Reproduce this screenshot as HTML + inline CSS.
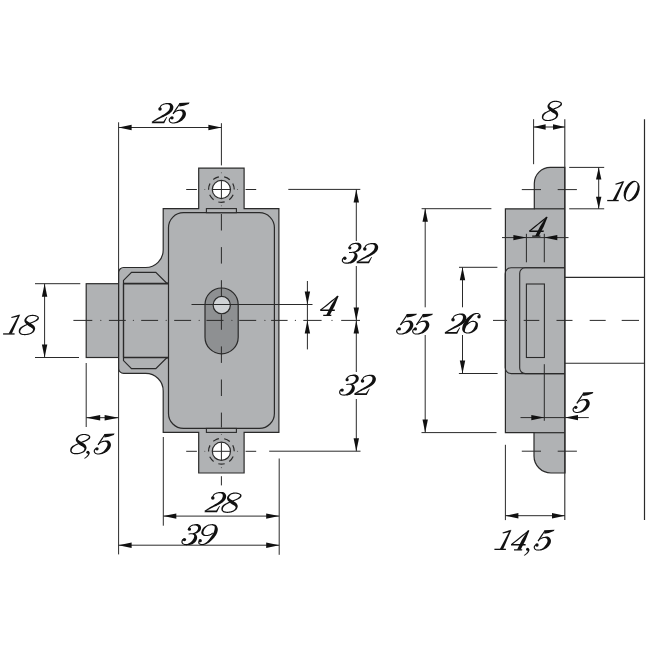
<!DOCTYPE html>
<html><head><meta charset="utf-8"><style>
html,body{margin:0;padding:0;background:#fff;width:650px;height:650px;overflow:hidden}
svg{display:block}
</style></head><body>
<svg width="650" height="650" viewBox="0 0 650 650">
<rect width="650" height="650" fill="#fff"/>
<rect x="86.2" y="283.7" width="32.4" height="73.8" fill="#b0b2b4" stroke="#2a2a2a" stroke-width="1.2"/>
<path d="M198.7,168.2 L244.1,168.2 L244.1,208.6 L278.9,208.6 L278.9,432.4 L244.1,432.4 L244.1,473 L198.7,473 L198.7,432.4 L163.2,432.4 L163.2,390.9 A17.5,17.5 0 0 0 145.7,373.4 L123.6,373.4 A5,5 0 0 1 118.6,368.4 L118.6,272.5 A5,5 0 0 1 123.6,267.5 L145.7,267.5 A17.5,17.5 0 0 0 163.2,250.0 L163.2,208.6 L198.7,208.6 Z" fill="#b0b2b4" stroke="#2a2a2a" stroke-width="1.2" stroke-linejoin="miter"/>
<rect x="168.5" y="212.7" width="105.9" height="215.7" rx="15" ry="15" fill="#b0b2b4" stroke="#2a2a2a" stroke-width="1.2"/>
<rect x="206.4" y="208.6" width="30" height="4.1" fill="#b0b2b4" stroke="#2a2a2a" stroke-width="1.1"/>
<rect x="206.4" y="428.4" width="30" height="4.0" fill="#b0b2b4" stroke="#2a2a2a" stroke-width="1.1"/>
<path d="M123.5,357.6 L123.5,280.4 L131.5,272.3 L155.8,272.3 L166,282.5 L168.5,283.6" fill="none" stroke="#2a2a2a" stroke-width="1.2"/>
<path d="M123.5,283.6 L123.5,360.6 L131.5,368.7 L155.8,368.7 L166,358.5 L168.5,357.5" fill="none" stroke="#2a2a2a" stroke-width="1.2"/>
<line x1="123.5" y1="283.6" x2="168.5" y2="283.6" stroke="#2a2a2a" stroke-width="1.6"/>
<line x1="123.5" y1="357.5" x2="168.5" y2="357.5" stroke="#2a2a2a" stroke-width="1.6"/>
<rect x="205" y="288" width="33.2" height="65.8" rx="16.6" ry="16.6" fill="#8e9092" stroke="#2a2a2a" stroke-width="1.2"/>
<circle cx="221.75" cy="305.1" r="8.65" fill="#cfd2d5" stroke="#2a2a2a" stroke-width="1.2"/>
<circle cx="221.4" cy="189.5" r="12.85" fill="none" stroke="#2a2a2a" stroke-width="1.2" stroke-dasharray="6.3 5.23" transform="rotate(-28 221.4 189.5)"/>
<circle cx="221.4" cy="189.5" r="9.1" fill="#fff" stroke="#2a2a2a" stroke-width="1.2"/>
<line x1="212.4" y1="189.5" x2="230.4" y2="189.5" stroke="#2a2a2a" stroke-width="1.0"/>
<line x1="221.4" y1="180.5" x2="221.4" y2="198.5" stroke="#2a2a2a" stroke-width="1.0"/>
<line x1="186.2" y1="189.5" x2="196.9" y2="189.5" stroke="#2a2a2a" stroke-width="1.0"/>
<line x1="245.6" y1="189.5" x2="256.2" y2="189.5" stroke="#2a2a2a" stroke-width="1.0"/>
<circle cx="204.8" cy="189.5" r="0.55" fill="#555"/>
<circle cx="237.5" cy="189.5" r="0.55" fill="#555"/>
<circle cx="221.4" cy="172.7" r="0.55" fill="#555"/>
<circle cx="221.4" cy="205.8" r="0.55" fill="#555"/>
<circle cx="221.4" cy="451.3" r="12.85" fill="none" stroke="#2a2a2a" stroke-width="1.2" stroke-dasharray="6.3 5.23" transform="rotate(-28 221.4 451.3)"/>
<circle cx="221.4" cy="451.3" r="9.1" fill="#fff" stroke="#2a2a2a" stroke-width="1.2"/>
<line x1="212.4" y1="451.3" x2="230.4" y2="451.3" stroke="#2a2a2a" stroke-width="1.0"/>
<line x1="221.4" y1="442.3" x2="221.4" y2="460.3" stroke="#2a2a2a" stroke-width="1.0"/>
<line x1="186.2" y1="451.3" x2="196.9" y2="451.3" stroke="#2a2a2a" stroke-width="1.0"/>
<line x1="245.6" y1="451.3" x2="256.2" y2="451.3" stroke="#2a2a2a" stroke-width="1.0"/>
<circle cx="204.8" cy="451.3" r="0.55" fill="#555"/>
<circle cx="237.5" cy="451.3" r="0.55" fill="#555"/>
<circle cx="221.4" cy="434.5" r="0.55" fill="#555"/>
<circle cx="221.4" cy="467.6" r="0.55" fill="#555"/>
<line x1="221.4" y1="214" x2="221.4" y2="230.5" stroke="#2a2a2a" stroke-width="1.0"/>
<line x1="221.4" y1="247.1" x2="221.4" y2="263.6" stroke="#2a2a2a" stroke-width="1.0"/>
<line x1="221.4" y1="280.2" x2="221.4" y2="296.3" stroke="#2a2a2a" stroke-width="1.0"/>
<line x1="221.4" y1="314.3" x2="221.4" y2="329.8" stroke="#2a2a2a" stroke-width="1.0"/>
<line x1="221.4" y1="346.4" x2="221.4" y2="362.9" stroke="#2a2a2a" stroke-width="1.0"/>
<line x1="221.4" y1="379.5" x2="221.4" y2="396.0" stroke="#2a2a2a" stroke-width="1.0"/>
<line x1="221.4" y1="412.6" x2="221.4" y2="427.5" stroke="#2a2a2a" stroke-width="1.0"/>
<line x1="221.4" y1="123.2" x2="221.4" y2="165.4" stroke="#2a2a2a" stroke-width="1.0"/>
<line x1="221.4" y1="476.2" x2="221.4" y2="485.4" stroke="#2a2a2a" stroke-width="1.0"/>
<line x1="73.4" y1="320.4" x2="92.3" y2="320.4" stroke="#2a2a2a" stroke-width="1.0"/>
<line x1="108.9" y1="320.4" x2="125.8" y2="320.4" stroke="#2a2a2a" stroke-width="1.0"/>
<line x1="141.2" y1="320.4" x2="158.1" y2="320.4" stroke="#2a2a2a" stroke-width="1.0"/>
<line x1="174.2" y1="320.4" x2="191.1" y2="320.4" stroke="#2a2a2a" stroke-width="1.0"/>
<line x1="206.5" y1="320.4" x2="223.5" y2="320.4" stroke="#2a2a2a" stroke-width="1.0"/>
<line x1="239.2" y1="320.4" x2="256.2" y2="320.4" stroke="#2a2a2a" stroke-width="1.0"/>
<line x1="271.1" y1="320.4" x2="287.6" y2="320.4" stroke="#2a2a2a" stroke-width="1.0"/>
<line x1="303.3" y1="320.4" x2="321.6" y2="320.4" stroke="#2a2a2a" stroke-width="1.0"/>
<line x1="341.2" y1="320.4" x2="360" y2="320.4" stroke="#2a2a2a" stroke-width="1.0"/>
<circle cx="100.8" cy="320.4" r="0.6" fill="#444"/>
<circle cx="133.4" cy="320.4" r="0.6" fill="#444"/>
<circle cx="166.2" cy="320.4" r="0.6" fill="#444"/>
<circle cx="199.2" cy="320.4" r="0.6" fill="#444"/>
<circle cx="231.9" cy="320.4" r="0.6" fill="#444"/>
<circle cx="264.9" cy="320.4" r="0.6" fill="#444"/>
<circle cx="295.4" cy="320.4" r="0.6" fill="#444"/>
<circle cx="332" cy="320.4" r="0.6" fill="#444"/>
<line x1="118.6" y1="122.3" x2="118.6" y2="554.4" stroke="#2a2a2a" stroke-width="1.0"/>
<line x1="118.6" y1="127.5" x2="221.4" y2="127.5" stroke="#2a2a2a" stroke-width="1.0"/>
<path d="M118.60,127.50 L131.60,124.80 L131.60,130.20 Z" fill="#111"/>
<path d="M221.40,127.50 L208.40,130.20 L208.40,124.80 Z" fill="#111"/>
<line x1="35" y1="283.7" x2="80.3" y2="283.7" stroke="#2a2a2a" stroke-width="1.0"/>
<line x1="35" y1="357.5" x2="79" y2="357.5" stroke="#2a2a2a" stroke-width="1.0"/>
<line x1="44.6" y1="283.7" x2="44.6" y2="357.5" stroke="#2a2a2a" stroke-width="1.0"/>
<path d="M44.60,283.70 L47.30,296.70 L41.90,296.70 Z" fill="#111"/>
<path d="M44.60,357.50 L41.90,344.50 L47.30,344.50 Z" fill="#111"/>
<line x1="86.2" y1="363" x2="86.2" y2="427" stroke="#2a2a2a" stroke-width="1.0"/>
<line x1="86.2" y1="417.7" x2="118.6" y2="417.7" stroke="#2a2a2a" stroke-width="1.0"/>
<path d="M86.20,417.70 L100.20,415.00 L100.20,420.40 Z" fill="#111"/>
<path d="M118.60,417.70 L104.60,420.40 L104.60,415.00 Z" fill="#111"/>
<line x1="163.3" y1="437" x2="163.3" y2="525.7" stroke="#2a2a2a" stroke-width="1.0"/>
<line x1="279.2" y1="458.5" x2="279.2" y2="554.8" stroke="#2a2a2a" stroke-width="1.0"/>
<line x1="163.3" y1="516.1" x2="279.2" y2="516.1" stroke="#2a2a2a" stroke-width="1.0"/>
<path d="M163.30,516.10 L176.30,513.40 L176.30,518.80 Z" fill="#111"/>
<path d="M279.20,516.10 L266.20,518.80 L266.20,513.40 Z" fill="#111"/>
<line x1="118.6" y1="545.2" x2="279.2" y2="545.2" stroke="#2a2a2a" stroke-width="1.0"/>
<path d="M118.60,545.20 L131.60,542.50 L131.60,547.90 Z" fill="#111"/>
<path d="M279.20,545.20 L266.20,547.90 L266.20,542.50 Z" fill="#111"/>
<line x1="288.3" y1="189.4" x2="360.3" y2="189.4" stroke="#2a2a2a" stroke-width="1.0"/>
<line x1="269.2" y1="451.2" x2="360.5" y2="451.2" stroke="#2a2a2a" stroke-width="1.0"/>
<line x1="356.3" y1="189.4" x2="356.3" y2="241" stroke="#2a2a2a" stroke-width="1.0"/>
<line x1="356.3" y1="266" x2="356.3" y2="320.4" stroke="#2a2a2a" stroke-width="1.0"/>
<line x1="356.3" y1="320.4" x2="356.3" y2="372" stroke="#2a2a2a" stroke-width="1.0"/>
<line x1="356.3" y1="399" x2="356.3" y2="451.2" stroke="#2a2a2a" stroke-width="1.0"/>
<path d="M356.30,189.40 L359.00,202.40 L353.60,202.40 Z" fill="#111"/>
<path d="M356.30,320.40 L353.60,307.40 L359.00,307.40 Z" fill="#111"/>
<path d="M356.30,320.40 L359.00,333.40 L353.60,333.40 Z" fill="#111"/>
<path d="M356.30,451.20 L353.60,438.20 L359.00,438.20 Z" fill="#111"/>
<line x1="191.5" y1="304.5" x2="312.5" y2="304.5" stroke="#2a2a2a" stroke-width="1.0"/>
<line x1="307.4" y1="281" x2="307.4" y2="349.4" stroke="#2a2a2a" stroke-width="1.0"/>
<path d="M307.40,304.50 L304.70,291.50 L310.10,291.50 Z" fill="#111"/>
<path d="M307.40,320.40 L310.10,333.40 L304.70,333.40 Z" fill="#111"/>
<path d="M564.8,167.4 L550.3,167.4 A16,16 0 0 0 534.3,183.4 L534.3,208.8 L505.4,208.8 L505.4,432.7 L534,432.7 L534,456 A17,17 0 0 0 551,473 L565,473 Z" fill="#b0b2b4" stroke="#2a2a2a" stroke-width="1.2"/>
<line x1="534.3" y1="208.8" x2="564.8" y2="208.8" stroke="#2a2a2a" stroke-width="1.2"/>
<line x1="534" y1="432.7" x2="564.8" y2="432.7" stroke="#2a2a2a" stroke-width="1.2"/>
<path d="M564.6,267.7 L511.2,267.7 A6,6 0 0 0 505.2,273.7 L505.2,367.6 A6,6 0 0 0 511.2,373.6 L564.6,373.6" fill="none" stroke="#2a2a2a" stroke-width="1.1"/>
<path d="M564.6,267.7 L525.2,267.7 A5.5,5.5 0 0 0 519.7,273.2 L519.7,368.1 A5.5,5.5 0 0 0 525.2,373.6 L564.6,373.6" fill="none" stroke="#2a2a2a" stroke-width="1.1"/>
<rect x="526.4" y="284" width="18" height="73.5" fill="none" stroke="#2a2a2a" stroke-width="1.1"/>
<line x1="564.8" y1="119.2" x2="564.8" y2="520.1" stroke="#2a2a2a" stroke-width="1.1"/>
<line x1="644.5" y1="119.2" x2="644.5" y2="520.1" stroke="#2a2a2a" stroke-width="1.2"/>
<line x1="565" y1="277.4" x2="644.5" y2="277.4" stroke="#2a2a2a" stroke-width="1.1"/>
<line x1="565" y1="363.2" x2="644.5" y2="363.2" stroke="#2a2a2a" stroke-width="1.1"/>
<line x1="493" y1="320.4" x2="507" y2="320.4" stroke="#2a2a2a" stroke-width="1.0"/>
<line x1="523.7" y1="320.4" x2="539.3" y2="320.4" stroke="#2a2a2a" stroke-width="1.0"/>
<line x1="556.5" y1="320.4" x2="572.5" y2="320.4" stroke="#2a2a2a" stroke-width="1.0"/>
<line x1="589.7" y1="320.4" x2="605.7" y2="320.4" stroke="#2a2a2a" stroke-width="1.0"/>
<line x1="621.7" y1="320.4" x2="639" y2="320.4" stroke="#2a2a2a" stroke-width="1.0"/>
<line x1="521.8" y1="189.6" x2="541" y2="189.6" stroke="#2a2a2a" stroke-width="1.0"/>
<line x1="557.7" y1="189.6" x2="576.9" y2="189.6" stroke="#2a2a2a" stroke-width="1.0"/>
<line x1="521.8" y1="451.2" x2="541" y2="451.2" stroke="#2a2a2a" stroke-width="1.0"/>
<line x1="557.7" y1="451.2" x2="576.9" y2="451.2" stroke="#2a2a2a" stroke-width="1.0"/>
<line x1="533.6" y1="119.2" x2="533.6" y2="164.2" stroke="#2a2a2a" stroke-width="1.0"/>
<line x1="533.6" y1="127" x2="565" y2="127" stroke="#2a2a2a" stroke-width="1.0"/>
<path d="M533.60,127.00 L545.60,124.30 L545.60,129.70 Z" fill="#111"/>
<path d="M565.00,127.00 L553.00,129.70 L553.00,124.30 Z" fill="#111"/>
<line x1="569.2" y1="167.4" x2="604.2" y2="167.4" stroke="#2a2a2a" stroke-width="1.0"/>
<line x1="569.2" y1="208.8" x2="604.2" y2="208.8" stroke="#2a2a2a" stroke-width="1.0"/>
<line x1="598.7" y1="167.4" x2="598.7" y2="208.8" stroke="#2a2a2a" stroke-width="1.0"/>
<path d="M598.70,167.40 L601.40,179.40 L596.00,179.40 Z" fill="#111"/>
<path d="M598.70,208.80 L596.00,196.80 L601.40,196.80 Z" fill="#111"/>
<line x1="526.4" y1="233.8" x2="526.4" y2="262.3" stroke="#2a2a2a" stroke-width="1.0"/>
<line x1="544.3" y1="233.8" x2="544.3" y2="262.3" stroke="#2a2a2a" stroke-width="1.0"/>
<line x1="502" y1="237.6" x2="568.5" y2="237.6" stroke="#2a2a2a" stroke-width="1.0"/>
<path d="M526.40,237.60 L513.40,240.30 L513.40,234.90 Z" fill="#111"/>
<path d="M544.30,237.60 L557.30,234.90 L557.30,240.30 Z" fill="#111"/>
<line x1="544.3" y1="364.2" x2="544.3" y2="420.8" stroke="#2a2a2a" stroke-width="1.0"/>
<line x1="520.5" y1="417.6" x2="588.8" y2="417.6" stroke="#2a2a2a" stroke-width="1.0"/>
<path d="M544.30,417.60 L531.30,420.30 L531.30,414.90 Z" fill="#111"/>
<path d="M565.00,417.60 L578.00,414.90 L578.00,420.30 Z" fill="#111"/>
<line x1="421.6" y1="208.7" x2="491.4" y2="208.7" stroke="#2a2a2a" stroke-width="1.0"/>
<line x1="421.5" y1="432.6" x2="496.5" y2="432.6" stroke="#2a2a2a" stroke-width="1.0"/>
<line x1="425.2" y1="208.7" x2="425.2" y2="307.3" stroke="#2a2a2a" stroke-width="1.0"/>
<line x1="425.2" y1="335" x2="425.2" y2="432.6" stroke="#2a2a2a" stroke-width="1.0"/>
<path d="M425.20,208.70 L427.90,221.70 L422.50,221.70 Z" fill="#111"/>
<path d="M425.20,432.60 L422.50,419.60 L427.90,419.60 Z" fill="#111"/>
<line x1="459" y1="267.3" x2="497.4" y2="267.3" stroke="#2a2a2a" stroke-width="1.0"/>
<line x1="458.9" y1="373.5" x2="497.6" y2="373.5" stroke="#2a2a2a" stroke-width="1.0"/>
<line x1="462.5" y1="267.3" x2="462.5" y2="307.3" stroke="#2a2a2a" stroke-width="1.0"/>
<line x1="462.5" y1="335" x2="462.5" y2="373.5" stroke="#2a2a2a" stroke-width="1.0"/>
<path d="M462.50,267.30 L465.20,280.30 L459.80,280.30 Z" fill="#111"/>
<path d="M462.50,373.50 L459.80,360.50 L465.20,360.50 Z" fill="#111"/>
<line x1="505.4" y1="444.8" x2="505.4" y2="520.1" stroke="#2a2a2a" stroke-width="1.0"/>
<line x1="505.4" y1="515.7" x2="565" y2="515.7" stroke="#2a2a2a" stroke-width="1.0"/>
<path d="M505.40,515.70 L518.40,513.00 L518.40,518.40 Z" fill="#111"/>
<path d="M565.00,515.70 L552.00,518.40 L552.00,513.00 Z" fill="#111"/>
<g transform="translate(151.60,123.20)" fill="#111"><path d="M8.5,-14.4 8.6,-14.6 8.7,-15.0 8.9,-15.4 9.1,-15.8 9.3,-16.2 9.5,-16.6 9.7,-17.0 10.0,-17.2 10.2,-17.5 10.6,-17.7 10.9,-17.9 11.3,-18.1 11.7,-18.3 12.1,-18.4 12.6,-18.6 12.9,-18.7 13.3,-18.8 13.7,-18.9 14.1,-19.0 14.5,-19.0 14.9,-19.0 15.2,-19.0 15.6,-19.0 16.0,-19.0 16.3,-18.9 16.7,-18.8 17.0,-18.6 17.3,-18.5 17.6,-18.3 17.8,-18.2 18.0,-18.0 18.1,-17.8 18.2,-17.7 18.2,-17.5 18.3,-17.3 18.3,-17.1 18.3,-16.9 18.4,-16.7 18.3,-16.5 18.3,-16.3 18.3,-16.2 18.4,-16.0 18.3,-15.8 18.3,-15.6 18.3,-15.4 18.2,-15.2 18.1,-14.9 18.0,-14.7 18.0,-14.4 17.8,-14.1 17.7,-13.8 17.6,-13.5 17.4,-13.2 17.2,-12.9 16.9,-12.5 16.6,-12.2 16.3,-11.9 16.0,-11.6 15.6,-11.2 15.1,-10.9 14.7,-10.5 14.2,-10.1 13.6,-9.7 13.0,-9.3 12.4,-8.9 11.7,-8.5 11.0,-8.1 10.2,-7.7 9.5,-7.2 8.7,-6.8 7.9,-6.3 7.2,-5.9 6.5,-5.5 5.8,-5.1 5.1,-4.6 4.4,-4.2 3.7,-3.8 3.1,-3.4 2.6,-3.0 2.1,-2.7 1.7,-2.4 1.3,-2.2 1.0,-2.0 0.7,-1.8 0.5,-1.6 0.3,-1.5 0.2,-1.4 0.0,-1.3 0.8,-0.3 0.9,-0.4 1.1,-0.5 1.2,-0.7 1.4,-0.8 1.7,-1.0 2.0,-1.2 2.3,-1.4 2.7,-1.7 3.2,-2.0 3.8,-2.3 4.4,-2.6 5.1,-3.0 5.8,-3.4 6.5,-3.7 7.3,-4.1 8.0,-4.5 8.7,-4.9 9.5,-5.2 10.3,-5.6 11.1,-6.0 11.9,-6.3 12.7,-6.7 13.5,-7.1 14.2,-7.5 14.8,-7.8 15.4,-8.1 16.0,-8.5 16.6,-8.8 17.1,-9.1 17.6,-9.5 18.1,-9.8 18.6,-10.2 19.0,-10.6 19.4,-10.9 19.8,-11.3 20.1,-11.7 20.4,-12.1 20.7,-12.5 20.9,-12.9 21.2,-13.3 21.3,-13.7 21.5,-14.2 21.6,-14.6 21.7,-15.1 21.7,-15.5 21.8,-16.0 21.7,-16.4 21.7,-16.9 21.5,-17.3 21.3,-17.7 21.1,-18.1 20.9,-18.5 20.6,-18.8 20.3,-19.2 19.9,-19.5 19.5,-19.8 19.1,-20.0 18.6,-20.1 18.2,-20.2 17.8,-20.2 17.3,-20.3 16.9,-20.3 16.5,-20.2 16.0,-20.2 15.6,-20.2 15.2,-20.2 14.8,-20.2 14.4,-20.1 13.9,-20.0 13.5,-19.9 13.1,-19.8 12.7,-19.7 12.2,-19.6 11.8,-19.4 11.3,-19.2 10.9,-19.0 10.4,-18.8 10.0,-18.6 9.6,-18.3 9.2,-18.0 8.9,-17.6 8.6,-17.1 8.4,-16.7 8.1,-16.2 7.9,-15.8 7.8,-15.4 7.6,-15.0 7.5,-14.8Z"/><path d="M0.0,0.0 L12.6,0.0 L15.6,-6.2 L14.9,-6.2 L11.8,-1.8 L1.6,-1.8Z"/><circle cx="8.4" cy="-14.1" r="1.75"/></g>
<g transform="translate(169.20,123.00)" fill="#111"><path d="M9.9,-20.0 L20.4,-20.4 L19.6,-19.1 L14.6,-17.3 L10.2,-16.5Z"/><path d="M9.9,-19.3 9.4,-18.5 8.6,-17.3 7.6,-15.9 6.6,-14.4 5.6,-12.9 4.7,-11.5 3.9,-10.3 3.4,-9.5 4.2,-8.9 4.8,-9.7 5.6,-10.9 6.5,-12.3 7.6,-13.8 8.6,-15.3 9.5,-16.7 10.3,-17.8 10.9,-18.7Z"/><path d="M4.1,-8.8 4.4,-9.0 4.7,-9.3 5.0,-9.7 5.4,-10.1 5.8,-10.4 6.2,-10.8 6.6,-11.1 7.0,-11.3 7.5,-11.5 7.9,-11.7 8.4,-11.8 8.9,-12.0 9.5,-12.1 9.9,-12.1 10.4,-12.2 10.8,-12.2 11.2,-12.1 11.6,-12.0 11.9,-11.9 12.2,-11.8 12.4,-11.6 12.6,-11.5 12.7,-11.3 12.8,-11.1 12.9,-11.0 13.0,-10.8 13.1,-10.6 13.2,-10.4 13.3,-10.2 13.3,-9.9 13.3,-9.7 13.3,-9.5 13.3,-9.4 13.3,-9.2 13.3,-8.9 13.3,-8.7 13.2,-8.4 13.1,-8.1 13.0,-7.8 12.9,-7.5 12.7,-7.2 12.6,-6.9 12.4,-6.5 12.1,-6.1 11.9,-5.7 11.6,-5.3 11.3,-4.9 11.0,-4.6 10.7,-4.2 10.4,-3.8 10.1,-3.5 9.8,-3.1 9.5,-2.8 9.2,-2.5 8.8,-2.2 8.5,-1.9 8.0,-1.7 7.6,-1.5 7.1,-1.3 6.6,-1.1 6.1,-0.9 5.7,-0.8 5.2,-0.7 4.8,-0.6 4.3,-0.6 3.9,-0.6 3.5,-0.6 3.1,-0.6 2.7,-0.7 2.4,-0.7 2.1,-0.8 1.8,-0.9 1.6,-1.1 1.4,-1.3 1.2,-1.5 1.1,-1.8 0.9,-2.0 0.8,-2.3 0.7,-2.5 0.7,-2.7 0.7,-2.9 0.7,-3.0 0.7,-3.2 0.8,-3.4 0.9,-3.7 1.0,-3.9 1.1,-4.1 1.2,-4.2 1.4,-4.3 1.5,-4.4 1.8,-4.6 2.0,-4.7 2.2,-4.8 2.5,-4.9 2.7,-5.0 2.9,-5.1 2.3,-6.1 2.2,-6.1 2.0,-6.0 1.8,-5.9 1.5,-5.8 1.2,-5.6 0.9,-5.4 0.6,-5.2 0.4,-5.0 0.2,-4.7 -0.0,-4.5 -0.2,-4.2 -0.3,-3.9 -0.4,-3.6 -0.5,-3.2 -0.5,-2.9 -0.5,-2.5 -0.4,-2.1 -0.2,-1.8 -0.1,-1.5 0.1,-1.1 0.4,-0.8 0.7,-0.5 1.0,-0.3 1.4,-0.1 1.7,0.1 2.1,0.2 2.5,0.3 3.0,0.4 3.4,0.4 3.9,0.5 4.4,0.4 4.8,0.4 5.3,0.4 5.9,0.3 6.4,0.3 7.0,0.2 7.5,0.0 8.1,-0.1 8.6,-0.3 9.1,-0.5 9.7,-0.7 10.2,-0.9 10.7,-1.1 11.2,-1.4 11.6,-1.7 12.1,-2.0 12.6,-2.3 13.0,-2.6 13.4,-3.0 13.8,-3.4 14.2,-3.8 14.6,-4.2 15.0,-4.7 15.3,-5.1 15.6,-5.6 15.9,-6.1 16.1,-6.5 16.3,-7.0 16.5,-7.5 16.6,-8.0 16.7,-8.5 16.7,-9.0 16.7,-9.5 16.7,-10.1 16.5,-10.6 16.3,-11.0 16.1,-11.5 15.8,-11.9 15.5,-12.3 15.2,-12.7 14.8,-13.0 14.4,-13.3 13.9,-13.4 13.5,-13.6 13.0,-13.6 12.6,-13.6 12.1,-13.6 11.7,-13.6 11.2,-13.5 10.8,-13.4 10.3,-13.3 9.8,-13.3 9.2,-13.2 8.7,-13.0 8.1,-12.9 7.6,-12.7 7.1,-12.5 6.6,-12.3 6.1,-12.0 5.6,-11.6 5.1,-11.2 4.7,-10.8 4.3,-10.4 4.0,-10.1 3.7,-9.8 3.5,-9.6Z"/><circle cx="2.8" cy="-5.2" r="1.65"/></g>
<g transform="translate(342.40,263.20)" fill="#111"><circle cx="7.4" cy="-15.4" r="1.6"/><path d="M7.1,-16.2 7.4,-16.4 7.6,-16.7 8.0,-17.0 8.3,-17.4 8.7,-17.7 9.1,-18.1 9.5,-18.3 9.8,-18.5 10.2,-18.7 10.6,-18.8 11.1,-19.0 11.5,-19.0 12.0,-19.1 12.4,-19.2 12.8,-19.2 13.2,-19.2 13.6,-19.1 13.9,-19.0 14.2,-18.9 14.5,-18.8 14.8,-18.6 15.1,-18.5 15.3,-18.3 15.4,-18.2 15.6,-18.0 15.7,-17.9 15.8,-17.7 15.9,-17.5 16.0,-17.4 16.0,-17.2 16.1,-17.1 16.1,-17.0 16.1,-16.9 16.1,-16.8 16.1,-16.6 16.1,-16.4 16.1,-16.2 16.1,-16.0 16.0,-15.8 15.9,-15.6 15.9,-15.4 15.8,-15.1 15.7,-14.9 15.5,-14.6 15.4,-14.3 15.2,-14.1 15.0,-13.8 14.8,-13.6 14.6,-13.4 14.3,-13.1 14.0,-12.9 13.8,-12.7 13.5,-12.5 13.2,-12.3 12.9,-12.1 12.6,-12.0 12.3,-11.9 12.0,-11.8 11.7,-11.7 11.4,-11.6 11.2,-11.5 10.9,-11.5 10.7,-11.4 10.5,-11.4 10.7,-10.4 10.9,-10.4 11.1,-10.4 11.3,-10.5 11.6,-10.5 12.0,-10.6 12.3,-10.6 12.7,-10.7 13.0,-10.8 13.4,-10.9 13.7,-11.0 14.1,-11.1 14.5,-11.3 14.9,-11.4 15.3,-11.6 15.7,-11.8 16.0,-12.0 16.4,-12.3 16.7,-12.5 17.0,-12.8 17.4,-13.1 17.7,-13.4 18.0,-13.7 18.2,-14.1 18.5,-14.4 18.6,-14.8 18.8,-15.2 18.9,-15.6 19.0,-16.0 19.0,-16.5 19.1,-16.9 19.0,-17.4 18.9,-17.8 18.8,-18.2 18.5,-18.6 18.3,-19.0 18.0,-19.3 17.7,-19.6 17.3,-19.8 17.0,-20.1 16.6,-20.2 16.2,-20.4 15.8,-20.5 15.3,-20.5 14.9,-20.5 14.5,-20.5 14.1,-20.5 13.6,-20.5 13.2,-20.4 12.7,-20.4 12.3,-20.3 11.8,-20.2 11.3,-20.1 10.8,-20.0 10.3,-19.9 9.8,-19.7 9.4,-19.5 8.9,-19.2 8.5,-18.9 8.0,-18.5 7.6,-18.1 7.3,-17.8 6.9,-17.4 6.7,-17.2 6.5,-17.0Z"/><path d="M6.6,-10.2 7.0,-10.2 7.4,-10.2 8.0,-10.3 8.6,-10.3 9.2,-10.3 9.8,-10.4 10.3,-10.4 10.6,-10.4 10.6,-11.4 10.2,-11.4 9.8,-11.4 9.2,-11.3 8.6,-11.3 8.0,-11.3 7.4,-11.2 6.9,-11.2 6.6,-11.2Z"/><path d="M10.4,-10.4 10.6,-10.3 10.8,-10.1 11.1,-10.0 11.4,-9.8 11.6,-9.6 11.8,-9.5 12.0,-9.3 12.0,-9.1 12.1,-9.0 12.1,-8.7 12.2,-8.5 12.2,-8.2 12.2,-8.0 12.1,-7.7 12.1,-7.5 12.0,-7.3 12.0,-7.1 11.9,-6.9 11.8,-6.6 11.7,-6.3 11.6,-6.0 11.4,-5.7 11.2,-5.5 11.0,-5.2 10.8,-4.8 10.6,-4.5 10.4,-4.2 10.1,-3.8 9.8,-3.5 9.5,-3.2 9.2,-2.9 8.9,-2.6 8.6,-2.3 8.2,-2.0 7.8,-1.8 7.3,-1.5 6.9,-1.3 6.4,-1.1 5.9,-0.9 5.5,-0.7 5.1,-0.6 4.6,-0.6 4.1,-0.6 3.7,-0.6 3.3,-0.6 2.9,-0.6 2.5,-0.7 2.2,-0.8 1.9,-0.9 1.6,-1.1 1.4,-1.2 1.2,-1.4 1.0,-1.6 0.9,-1.8 0.7,-2.0 0.7,-2.2 0.6,-2.4 0.6,-2.6 0.6,-2.9 0.6,-3.2 0.7,-3.4 0.7,-3.7 0.8,-3.9 0.9,-4.1 1.0,-4.2 1.1,-4.3 1.3,-4.4 1.6,-4.5 1.8,-4.6 2.1,-4.7 2.3,-4.8 2.4,-4.9 2.0,-5.9 1.8,-5.9 1.6,-5.8 1.4,-5.7 1.1,-5.6 0.8,-5.5 0.5,-5.3 0.1,-5.0 -0.1,-4.7 -0.3,-4.4 -0.4,-4.1 -0.5,-3.7 -0.6,-3.3 -0.6,-2.9 -0.6,-2.5 -0.6,-2.2 -0.5,-1.8 -0.3,-1.5 -0.1,-1.2 0.2,-0.9 0.4,-0.6 0.7,-0.4 1.1,-0.1 1.4,0.0 1.8,0.2 2.2,0.3 2.7,0.4 3.1,0.5 3.6,0.5 4.1,0.6 4.7,0.6 5.2,0.5 5.7,0.5 6.2,0.5 6.8,0.4 7.4,0.4 8.0,0.3 8.5,0.2 9.1,0.0 9.7,-0.2 10.3,-0.4 10.8,-0.7 11.3,-1.0 11.8,-1.3 12.2,-1.7 12.7,-2.1 13.1,-2.4 13.4,-2.8 13.8,-3.2 14.1,-3.7 14.3,-4.1 14.6,-4.6 14.8,-5.1 14.9,-5.6 15.1,-6.1 15.1,-6.6 15.2,-7.1 15.1,-7.6 15.0,-8.1 14.8,-8.6 14.7,-9.0 14.4,-9.4 14.2,-9.8 13.9,-10.1 13.6,-10.5 13.2,-10.7 12.7,-11.0 12.3,-11.1 11.9,-11.2 11.6,-11.3 11.2,-11.3 11.0,-11.4 10.8,-11.4Z"/><circle cx="2.4" cy="-5.0" r="1.7"/></g>
<g transform="translate(356.40,263.20)" fill="#111"><path d="M8.5,-14.4 8.6,-14.6 8.7,-15.0 8.9,-15.4 9.1,-15.8 9.3,-16.2 9.5,-16.6 9.7,-17.0 10.0,-17.2 10.2,-17.5 10.6,-17.7 10.9,-17.9 11.3,-18.1 11.7,-18.3 12.1,-18.4 12.6,-18.6 12.9,-18.7 13.3,-18.8 13.7,-18.9 14.1,-19.0 14.5,-19.0 14.9,-19.0 15.2,-19.0 15.6,-19.0 16.0,-19.0 16.3,-18.9 16.7,-18.8 17.0,-18.6 17.3,-18.5 17.6,-18.3 17.8,-18.2 18.0,-18.0 18.1,-17.8 18.2,-17.7 18.2,-17.5 18.3,-17.3 18.3,-17.1 18.3,-16.9 18.4,-16.7 18.3,-16.5 18.3,-16.3 18.3,-16.2 18.4,-16.0 18.3,-15.8 18.3,-15.6 18.3,-15.4 18.2,-15.2 18.1,-14.9 18.0,-14.7 18.0,-14.4 17.8,-14.1 17.7,-13.8 17.6,-13.5 17.4,-13.2 17.2,-12.9 16.9,-12.5 16.6,-12.2 16.3,-11.9 16.0,-11.6 15.6,-11.2 15.1,-10.9 14.7,-10.5 14.2,-10.1 13.6,-9.7 13.0,-9.3 12.4,-8.9 11.7,-8.5 11.0,-8.1 10.2,-7.7 9.5,-7.2 8.7,-6.8 7.9,-6.3 7.2,-5.9 6.5,-5.5 5.8,-5.1 5.1,-4.6 4.4,-4.2 3.7,-3.8 3.1,-3.4 2.6,-3.0 2.1,-2.7 1.7,-2.4 1.3,-2.2 1.0,-2.0 0.7,-1.8 0.5,-1.6 0.3,-1.5 0.2,-1.4 0.0,-1.3 0.8,-0.3 0.9,-0.4 1.1,-0.5 1.2,-0.7 1.4,-0.8 1.7,-1.0 2.0,-1.2 2.3,-1.4 2.7,-1.7 3.2,-2.0 3.8,-2.3 4.4,-2.6 5.1,-3.0 5.8,-3.4 6.5,-3.7 7.3,-4.1 8.0,-4.5 8.7,-4.9 9.5,-5.2 10.3,-5.6 11.1,-6.0 11.9,-6.3 12.7,-6.7 13.5,-7.1 14.2,-7.5 14.8,-7.8 15.4,-8.1 16.0,-8.5 16.6,-8.8 17.1,-9.1 17.6,-9.5 18.1,-9.8 18.6,-10.2 19.0,-10.6 19.4,-10.9 19.8,-11.3 20.1,-11.7 20.4,-12.1 20.7,-12.5 20.9,-12.9 21.2,-13.3 21.3,-13.7 21.5,-14.2 21.6,-14.6 21.7,-15.1 21.7,-15.5 21.8,-16.0 21.7,-16.4 21.7,-16.9 21.5,-17.3 21.3,-17.7 21.1,-18.1 20.9,-18.5 20.6,-18.8 20.3,-19.2 19.9,-19.5 19.5,-19.8 19.1,-20.0 18.6,-20.1 18.2,-20.2 17.8,-20.2 17.3,-20.3 16.9,-20.3 16.5,-20.2 16.0,-20.2 15.6,-20.2 15.2,-20.2 14.8,-20.2 14.4,-20.1 13.9,-20.0 13.5,-19.9 13.1,-19.8 12.7,-19.7 12.2,-19.6 11.8,-19.4 11.3,-19.2 10.9,-19.0 10.4,-18.8 10.0,-18.6 9.6,-18.3 9.2,-18.0 8.9,-17.6 8.6,-17.1 8.4,-16.7 8.1,-16.2 7.9,-15.8 7.8,-15.4 7.6,-15.0 7.5,-14.8Z"/><path d="M0.0,0.0 L12.6,0.0 L15.6,-6.2 L14.9,-6.2 L11.8,-1.8 L1.6,-1.8Z"/><circle cx="8.4" cy="-14.1" r="1.75"/></g>
<g transform="translate(339.70,395.10)" fill="#111"><circle cx="7.4" cy="-15.4" r="1.6"/><path d="M7.1,-16.2 7.4,-16.4 7.6,-16.7 8.0,-17.0 8.3,-17.4 8.7,-17.7 9.1,-18.1 9.5,-18.3 9.8,-18.5 10.2,-18.7 10.6,-18.8 11.1,-19.0 11.5,-19.0 12.0,-19.1 12.4,-19.2 12.8,-19.2 13.2,-19.2 13.6,-19.1 13.9,-19.0 14.2,-18.9 14.5,-18.8 14.8,-18.6 15.1,-18.5 15.3,-18.3 15.4,-18.2 15.6,-18.0 15.7,-17.9 15.8,-17.7 15.9,-17.5 16.0,-17.4 16.0,-17.2 16.1,-17.1 16.1,-17.0 16.1,-16.9 16.1,-16.8 16.1,-16.6 16.1,-16.4 16.1,-16.2 16.1,-16.0 16.0,-15.8 15.9,-15.6 15.9,-15.4 15.8,-15.1 15.7,-14.9 15.5,-14.6 15.4,-14.3 15.2,-14.1 15.0,-13.8 14.8,-13.6 14.6,-13.4 14.3,-13.1 14.0,-12.9 13.8,-12.7 13.5,-12.5 13.2,-12.3 12.9,-12.1 12.6,-12.0 12.3,-11.9 12.0,-11.8 11.7,-11.7 11.4,-11.6 11.2,-11.5 10.9,-11.5 10.7,-11.4 10.5,-11.4 10.7,-10.4 10.9,-10.4 11.1,-10.4 11.3,-10.5 11.6,-10.5 12.0,-10.6 12.3,-10.6 12.7,-10.7 13.0,-10.8 13.4,-10.9 13.7,-11.0 14.1,-11.1 14.5,-11.3 14.9,-11.4 15.3,-11.6 15.7,-11.8 16.0,-12.0 16.4,-12.3 16.7,-12.5 17.0,-12.8 17.4,-13.1 17.7,-13.4 18.0,-13.7 18.2,-14.1 18.5,-14.4 18.6,-14.8 18.8,-15.2 18.9,-15.6 19.0,-16.0 19.0,-16.5 19.1,-16.9 19.0,-17.4 18.9,-17.8 18.8,-18.2 18.5,-18.6 18.3,-19.0 18.0,-19.3 17.7,-19.6 17.3,-19.8 17.0,-20.1 16.6,-20.2 16.2,-20.4 15.8,-20.5 15.3,-20.5 14.9,-20.5 14.5,-20.5 14.1,-20.5 13.6,-20.5 13.2,-20.4 12.7,-20.4 12.3,-20.3 11.8,-20.2 11.3,-20.1 10.8,-20.0 10.3,-19.9 9.8,-19.7 9.4,-19.5 8.9,-19.2 8.5,-18.9 8.0,-18.5 7.6,-18.1 7.3,-17.8 6.9,-17.4 6.7,-17.2 6.5,-17.0Z"/><path d="M6.6,-10.2 7.0,-10.2 7.4,-10.2 8.0,-10.3 8.6,-10.3 9.2,-10.3 9.8,-10.4 10.3,-10.4 10.6,-10.4 10.6,-11.4 10.2,-11.4 9.8,-11.4 9.2,-11.3 8.6,-11.3 8.0,-11.3 7.4,-11.2 6.9,-11.2 6.6,-11.2Z"/><path d="M10.4,-10.4 10.6,-10.3 10.8,-10.1 11.1,-10.0 11.4,-9.8 11.6,-9.6 11.8,-9.5 12.0,-9.3 12.0,-9.1 12.1,-9.0 12.1,-8.7 12.2,-8.5 12.2,-8.2 12.2,-8.0 12.1,-7.7 12.1,-7.5 12.0,-7.3 12.0,-7.1 11.9,-6.9 11.8,-6.6 11.7,-6.3 11.6,-6.0 11.4,-5.7 11.2,-5.5 11.0,-5.2 10.8,-4.8 10.6,-4.5 10.4,-4.2 10.1,-3.8 9.8,-3.5 9.5,-3.2 9.2,-2.9 8.9,-2.6 8.6,-2.3 8.2,-2.0 7.8,-1.8 7.3,-1.5 6.9,-1.3 6.4,-1.1 5.9,-0.9 5.5,-0.7 5.1,-0.6 4.6,-0.6 4.1,-0.6 3.7,-0.6 3.3,-0.6 2.9,-0.6 2.5,-0.7 2.2,-0.8 1.9,-0.9 1.6,-1.1 1.4,-1.2 1.2,-1.4 1.0,-1.6 0.9,-1.8 0.7,-2.0 0.7,-2.2 0.6,-2.4 0.6,-2.6 0.6,-2.9 0.6,-3.2 0.7,-3.4 0.7,-3.7 0.8,-3.9 0.9,-4.1 1.0,-4.2 1.1,-4.3 1.3,-4.4 1.6,-4.5 1.8,-4.6 2.1,-4.7 2.3,-4.8 2.4,-4.9 2.0,-5.9 1.8,-5.9 1.6,-5.8 1.4,-5.7 1.1,-5.6 0.8,-5.5 0.5,-5.3 0.1,-5.0 -0.1,-4.7 -0.3,-4.4 -0.4,-4.1 -0.5,-3.7 -0.6,-3.3 -0.6,-2.9 -0.6,-2.5 -0.6,-2.2 -0.5,-1.8 -0.3,-1.5 -0.1,-1.2 0.2,-0.9 0.4,-0.6 0.7,-0.4 1.1,-0.1 1.4,0.0 1.8,0.2 2.2,0.3 2.7,0.4 3.1,0.5 3.6,0.5 4.1,0.6 4.7,0.6 5.2,0.5 5.7,0.5 6.2,0.5 6.8,0.4 7.4,0.4 8.0,0.3 8.5,0.2 9.1,0.0 9.7,-0.2 10.3,-0.4 10.8,-0.7 11.3,-1.0 11.8,-1.3 12.2,-1.7 12.7,-2.1 13.1,-2.4 13.4,-2.8 13.8,-3.2 14.1,-3.7 14.3,-4.1 14.6,-4.6 14.8,-5.1 14.9,-5.6 15.1,-6.1 15.1,-6.6 15.2,-7.1 15.1,-7.6 15.0,-8.1 14.8,-8.6 14.7,-9.0 14.4,-9.4 14.2,-9.8 13.9,-10.1 13.6,-10.5 13.2,-10.7 12.7,-11.0 12.3,-11.1 11.9,-11.2 11.6,-11.3 11.2,-11.3 11.0,-11.4 10.8,-11.4Z"/><circle cx="2.4" cy="-5.0" r="1.7"/></g>
<g transform="translate(354.10,395.00)" fill="#111"><path d="M8.5,-14.4 8.6,-14.6 8.7,-15.0 8.9,-15.4 9.1,-15.8 9.3,-16.2 9.5,-16.6 9.7,-17.0 10.0,-17.2 10.2,-17.5 10.6,-17.7 10.9,-17.9 11.3,-18.1 11.7,-18.3 12.1,-18.4 12.6,-18.6 12.9,-18.7 13.3,-18.8 13.7,-18.9 14.1,-19.0 14.5,-19.0 14.9,-19.0 15.2,-19.0 15.6,-19.0 16.0,-19.0 16.3,-18.9 16.7,-18.8 17.0,-18.6 17.3,-18.5 17.6,-18.3 17.8,-18.2 18.0,-18.0 18.1,-17.8 18.2,-17.7 18.2,-17.5 18.3,-17.3 18.3,-17.1 18.3,-16.9 18.4,-16.7 18.3,-16.5 18.3,-16.3 18.3,-16.2 18.4,-16.0 18.3,-15.8 18.3,-15.6 18.3,-15.4 18.2,-15.2 18.1,-14.9 18.0,-14.7 18.0,-14.4 17.8,-14.1 17.7,-13.8 17.6,-13.5 17.4,-13.2 17.2,-12.9 16.9,-12.5 16.6,-12.2 16.3,-11.9 16.0,-11.6 15.6,-11.2 15.1,-10.9 14.7,-10.5 14.2,-10.1 13.6,-9.7 13.0,-9.3 12.4,-8.9 11.7,-8.5 11.0,-8.1 10.2,-7.7 9.5,-7.2 8.7,-6.8 7.9,-6.3 7.2,-5.9 6.5,-5.5 5.8,-5.1 5.1,-4.6 4.4,-4.2 3.7,-3.8 3.1,-3.4 2.6,-3.0 2.1,-2.7 1.7,-2.4 1.3,-2.2 1.0,-2.0 0.7,-1.8 0.5,-1.6 0.3,-1.5 0.2,-1.4 0.0,-1.3 0.8,-0.3 0.9,-0.4 1.1,-0.5 1.2,-0.7 1.4,-0.8 1.7,-1.0 2.0,-1.2 2.3,-1.4 2.7,-1.7 3.2,-2.0 3.8,-2.3 4.4,-2.6 5.1,-3.0 5.8,-3.4 6.5,-3.7 7.3,-4.1 8.0,-4.5 8.7,-4.9 9.5,-5.2 10.3,-5.6 11.1,-6.0 11.9,-6.3 12.7,-6.7 13.5,-7.1 14.2,-7.5 14.8,-7.8 15.4,-8.1 16.0,-8.5 16.6,-8.8 17.1,-9.1 17.6,-9.5 18.1,-9.8 18.6,-10.2 19.0,-10.6 19.4,-10.9 19.8,-11.3 20.1,-11.7 20.4,-12.1 20.7,-12.5 20.9,-12.9 21.2,-13.3 21.3,-13.7 21.5,-14.2 21.6,-14.6 21.7,-15.1 21.7,-15.5 21.8,-16.0 21.7,-16.4 21.7,-16.9 21.5,-17.3 21.3,-17.7 21.1,-18.1 20.9,-18.5 20.6,-18.8 20.3,-19.2 19.9,-19.5 19.5,-19.8 19.1,-20.0 18.6,-20.1 18.2,-20.2 17.8,-20.2 17.3,-20.3 16.9,-20.3 16.5,-20.2 16.0,-20.2 15.6,-20.2 15.2,-20.2 14.8,-20.2 14.4,-20.1 13.9,-20.0 13.5,-19.9 13.1,-19.8 12.7,-19.7 12.2,-19.6 11.8,-19.4 11.3,-19.2 10.9,-19.0 10.4,-18.8 10.0,-18.6 9.6,-18.3 9.2,-18.0 8.9,-17.6 8.6,-17.1 8.4,-16.7 8.1,-16.2 7.9,-15.8 7.8,-15.4 7.6,-15.0 7.5,-14.8Z"/><path d="M0.0,0.0 L12.6,0.0 L15.6,-6.2 L14.9,-6.2 L11.8,-1.8 L1.6,-1.8Z"/><circle cx="8.4" cy="-14.1" r="1.75"/></g>
<g transform="translate(320.20,316.10)" fill="#111"><path d="M17.2,-20.3 15.8,-19.1 13.7,-17.4 11.2,-15.5 8.6,-13.3 5.9,-11.2 3.4,-9.2 1.4,-7.5 -0.1,-6.4 0.7,-5.4 2.1,-6.6 4.2,-8.3 6.7,-10.2 9.3,-12.4 12.0,-14.5 14.5,-16.5 16.5,-18.2 18.0,-19.3Z"/><path d="M17.0,-20.3 L18.4,-20.1 L14.6,-10.5 L9.6,-0.9 L6.0,-0.9 L10.8,-10.5Z"/><path d="M0.1,-5.1 1.3,-5.1 3.0,-5.1 5.1,-5.1 7.4,-5.1 9.6,-5.1 11.7,-5.1 13.4,-5.1 14.6,-5.2 14.6,-6.5 13.4,-6.5 11.7,-6.5 9.6,-6.5 7.3,-6.5 5.1,-6.5 3.0,-6.5 1.3,-6.5 0.1,-6.5Z"/><path d="M3.0,-0.2 3.7,-0.2 4.7,-0.2 5.8,-0.2 7.1,-0.2 8.4,-0.2 9.5,-0.2 10.5,-0.2 11.2,-0.3 11.2,-1.4 10.5,-1.4 9.5,-1.4 8.4,-1.4 7.1,-1.4 5.8,-1.4 4.7,-1.4 3.7,-1.4 3.0,-1.4Z"/></g>
<g transform="translate(3.00,334.70)" fill="#111"><path d="M8.2,-17.6 L16.6,-20.3 L15.6,-18.2 L8.6,-16.6Z"/><path d="M15.2,-19.0 L17.2,-20.3 L8.8,-0.9 L5.5,-0.9Z"/><path d="M0.1,-0.1 1.1,-0.1 2.4,-0.1 4.1,-0.1 5.8,-0.1 7.6,-0.1 9.3,-0.1 10.6,-0.1 11.6,-0.1 11.6,-1.4 10.6,-1.4 9.3,-1.4 7.6,-1.4 5.8,-1.4 4.1,-1.4 2.4,-1.4 1.1,-1.4 0.1,-1.4Z"/></g>
<g transform="translate(19.20,334.70)" fill="#111"><path d="M18.7,-18.5 18.3,-18.7 17.8,-19.0 17.3,-19.2 16.6,-19.4 16.0,-19.6 15.3,-19.7 14.7,-19.8 14.0,-19.9 13.4,-19.9 12.8,-19.9 12.2,-19.8 11.6,-19.8 11.0,-19.6 10.4,-19.5 9.9,-19.3 9.4,-19.1 8.9,-18.9 8.4,-18.6 7.9,-18.3 7.5,-18.0 7.1,-17.6 6.7,-17.3 6.4,-16.9 6.1,-16.5 5.9,-16.2 5.6,-15.8 5.4,-15.4 5.3,-15.0 5.2,-14.5 5.2,-13.9 5.3,-13.4 5.5,-12.8 5.8,-12.2 6.2,-11.7 6.6,-11.2 7.1,-10.7 7.6,-10.2 8.1,-9.8 8.5,-9.4 9.0,-8.9 9.5,-8.6 10.1,-8.2 10.6,-7.9 11.1,-7.7 11.6,-7.4 11.9,-7.2 12.2,-7.0 12.5,-6.8 12.7,-6.6 13.0,-6.4 13.2,-6.2 13.4,-6.0 13.5,-5.9 13.7,-5.7 13.7,-5.5 13.8,-5.3 13.8,-5.1 13.8,-4.7 13.6,-4.4 13.5,-4.0 13.3,-3.6 13.1,-3.3 12.8,-2.9 12.4,-2.6 12.0,-2.3 11.5,-2.0 11.0,-1.8 10.4,-1.5 9.8,-1.3 9.1,-1.1 8.5,-1.0 7.9,-0.9 7.3,-0.8 6.6,-0.7 5.9,-0.7 5.3,-0.7 4.6,-0.7 4.0,-0.8 3.4,-0.8 3.0,-0.9 2.6,-1.1 2.2,-1.3 1.9,-1.5 1.6,-1.7 1.4,-1.9 1.3,-2.2 1.1,-2.4 1.1,-2.7 1.0,-3.0 1.1,-3.3 1.1,-3.6 1.2,-4.0 1.3,-4.4 1.5,-4.8 1.7,-5.2 1.9,-5.5 2.1,-5.8 2.4,-6.1 2.7,-6.5 3.1,-6.8 3.5,-7.1 4.0,-7.5 4.5,-7.8 5.1,-8.2 5.7,-8.5 6.4,-8.9 7.2,-9.2 8.0,-9.6 8.8,-9.9 9.6,-10.2 10.3,-10.6 11.0,-10.9 11.7,-11.2 12.3,-11.4 13.0,-11.6 13.6,-11.9 14.2,-12.1 14.8,-12.4 15.4,-12.6 15.9,-12.9 16.4,-13.1 16.9,-13.4 17.4,-13.7 17.8,-14.0 18.3,-14.3 18.6,-14.6 19.0,-14.9 19.3,-15.3 19.5,-15.7 19.6,-16.1 19.7,-16.5 19.7,-16.9 19.6,-17.4 19.4,-17.8 19.1,-18.2 18.8,-18.4 18.0,-17.6 18.2,-17.4 18.2,-17.2 18.3,-17.1 18.3,-16.9 18.2,-16.7 18.2,-16.5 18.1,-16.3 17.9,-16.1 17.8,-15.9 17.6,-15.7 17.3,-15.4 17.0,-15.1 16.6,-14.8 16.2,-14.5 15.8,-14.2 15.3,-13.9 14.8,-13.7 14.3,-13.4 13.8,-13.2 13.2,-13.0 12.6,-12.7 11.9,-12.5 11.3,-12.2 10.6,-11.9 9.9,-11.6 9.1,-11.3 8.3,-11.0 7.5,-10.6 6.7,-10.3 5.9,-9.9 5.2,-9.6 4.5,-9.2 3.9,-8.9 3.3,-8.6 2.8,-8.3 2.2,-8.0 1.7,-7.7 1.3,-7.3 0.9,-6.9 0.5,-6.5 0.2,-6.0 -0.1,-5.5 -0.2,-4.9 -0.4,-4.4 -0.4,-3.8 -0.4,-3.3 -0.4,-2.8 -0.3,-2.3 -0.1,-1.9 0.2,-1.5 0.5,-1.1 0.8,-0.8 1.2,-0.5 1.6,-0.2 2.1,-0.0 2.6,0.1 3.2,0.3 3.8,0.4 4.5,0.4 5.2,0.5 6.0,0.5 6.7,0.4 7.4,0.4 8.1,0.3 8.8,0.1 9.4,-0.0 10.1,-0.2 10.8,-0.5 11.5,-0.7 12.1,-1.0 12.6,-1.3 13.2,-1.6 13.6,-1.9 14.1,-2.3 14.5,-2.7 14.9,-3.2 15.2,-3.6 15.4,-4.1 15.6,-4.6 15.8,-5.1 15.9,-5.6 15.9,-6.1 15.9,-6.6 15.7,-7.2 15.5,-7.6 15.3,-8.1 15.1,-8.6 14.7,-9.0 14.3,-9.5 13.8,-9.8 13.3,-10.2 12.8,-10.5 12.3,-10.8 11.8,-11.1 11.4,-11.4 11.0,-11.7 10.5,-12.0 10.0,-12.3 9.4,-12.6 8.9,-13.0 8.5,-13.3 8.1,-13.6 7.7,-13.8 7.5,-14.0 7.4,-14.1 7.3,-14.3 7.3,-14.4 7.2,-14.6 7.2,-14.8 7.3,-15.1 7.4,-15.4 7.5,-15.7 7.6,-16.0 7.9,-16.3 8.1,-16.6 8.4,-17.0 8.7,-17.3 9.1,-17.6 9.5,-17.9 9.8,-18.1 10.3,-18.2 10.7,-18.4 11.3,-18.5 11.8,-18.6 12.3,-18.7 12.9,-18.7 13.4,-18.8 14.0,-18.7 14.5,-18.7 15.1,-18.6 15.7,-18.4 16.3,-18.3 16.9,-18.1 17.4,-17.9 17.8,-17.7 18.1,-17.5Z"/></g>
<g transform="translate(70.60,453.80)" fill="#111"><path d="M18.7,-18.5 18.3,-18.7 17.8,-19.0 17.3,-19.2 16.6,-19.4 16.0,-19.6 15.3,-19.7 14.7,-19.8 14.0,-19.9 13.4,-19.9 12.8,-19.9 12.2,-19.8 11.6,-19.8 11.0,-19.6 10.4,-19.5 9.9,-19.3 9.4,-19.1 8.9,-18.9 8.4,-18.6 7.9,-18.3 7.5,-18.0 7.1,-17.6 6.7,-17.3 6.4,-16.9 6.1,-16.5 5.9,-16.2 5.6,-15.8 5.4,-15.4 5.3,-15.0 5.2,-14.5 5.2,-13.9 5.3,-13.4 5.5,-12.8 5.8,-12.2 6.2,-11.7 6.6,-11.2 7.1,-10.7 7.6,-10.2 8.1,-9.8 8.5,-9.4 9.0,-8.9 9.5,-8.6 10.1,-8.2 10.6,-7.9 11.1,-7.7 11.6,-7.4 11.9,-7.2 12.2,-7.0 12.5,-6.8 12.7,-6.6 13.0,-6.4 13.2,-6.2 13.4,-6.0 13.5,-5.9 13.7,-5.7 13.7,-5.5 13.8,-5.3 13.8,-5.1 13.8,-4.7 13.6,-4.4 13.5,-4.0 13.3,-3.6 13.1,-3.3 12.8,-2.9 12.4,-2.6 12.0,-2.3 11.5,-2.0 11.0,-1.8 10.4,-1.5 9.8,-1.3 9.1,-1.1 8.5,-1.0 7.9,-0.9 7.3,-0.8 6.6,-0.7 5.9,-0.7 5.3,-0.7 4.6,-0.7 4.0,-0.8 3.4,-0.8 3.0,-0.9 2.6,-1.1 2.2,-1.3 1.9,-1.5 1.6,-1.7 1.4,-1.9 1.3,-2.2 1.1,-2.4 1.1,-2.7 1.0,-3.0 1.1,-3.3 1.1,-3.6 1.2,-4.0 1.3,-4.4 1.5,-4.8 1.7,-5.2 1.9,-5.5 2.1,-5.8 2.4,-6.1 2.7,-6.5 3.1,-6.8 3.5,-7.1 4.0,-7.5 4.5,-7.8 5.1,-8.2 5.7,-8.5 6.4,-8.9 7.2,-9.2 8.0,-9.6 8.8,-9.9 9.6,-10.2 10.3,-10.6 11.0,-10.9 11.7,-11.2 12.3,-11.4 13.0,-11.6 13.6,-11.9 14.2,-12.1 14.8,-12.4 15.4,-12.6 15.9,-12.9 16.4,-13.1 16.9,-13.4 17.4,-13.7 17.8,-14.0 18.3,-14.3 18.6,-14.6 19.0,-14.9 19.3,-15.3 19.5,-15.7 19.6,-16.1 19.7,-16.5 19.7,-16.9 19.6,-17.4 19.4,-17.8 19.1,-18.2 18.8,-18.4 18.0,-17.6 18.2,-17.4 18.2,-17.2 18.3,-17.1 18.3,-16.9 18.2,-16.7 18.2,-16.5 18.1,-16.3 17.9,-16.1 17.8,-15.9 17.6,-15.7 17.3,-15.4 17.0,-15.1 16.6,-14.8 16.2,-14.5 15.8,-14.2 15.3,-13.9 14.8,-13.7 14.3,-13.4 13.8,-13.2 13.2,-13.0 12.6,-12.7 11.9,-12.5 11.3,-12.2 10.6,-11.9 9.9,-11.6 9.1,-11.3 8.3,-11.0 7.5,-10.6 6.7,-10.3 5.9,-9.9 5.2,-9.6 4.5,-9.2 3.9,-8.9 3.3,-8.6 2.8,-8.3 2.2,-8.0 1.7,-7.7 1.3,-7.3 0.9,-6.9 0.5,-6.5 0.2,-6.0 -0.1,-5.5 -0.2,-4.9 -0.4,-4.4 -0.4,-3.8 -0.4,-3.3 -0.4,-2.8 -0.3,-2.3 -0.1,-1.9 0.2,-1.5 0.5,-1.1 0.8,-0.8 1.2,-0.5 1.6,-0.2 2.1,-0.0 2.6,0.1 3.2,0.3 3.8,0.4 4.5,0.4 5.2,0.5 6.0,0.5 6.7,0.4 7.4,0.4 8.1,0.3 8.8,0.1 9.4,-0.0 10.1,-0.2 10.8,-0.5 11.5,-0.7 12.1,-1.0 12.6,-1.3 13.2,-1.6 13.6,-1.9 14.1,-2.3 14.5,-2.7 14.9,-3.2 15.2,-3.6 15.4,-4.1 15.6,-4.6 15.8,-5.1 15.9,-5.6 15.9,-6.1 15.9,-6.6 15.7,-7.2 15.5,-7.6 15.3,-8.1 15.1,-8.6 14.7,-9.0 14.3,-9.5 13.8,-9.8 13.3,-10.2 12.8,-10.5 12.3,-10.8 11.8,-11.1 11.4,-11.4 11.0,-11.7 10.5,-12.0 10.0,-12.3 9.4,-12.6 8.9,-13.0 8.5,-13.3 8.1,-13.6 7.7,-13.8 7.5,-14.0 7.4,-14.1 7.3,-14.3 7.3,-14.4 7.2,-14.6 7.2,-14.8 7.3,-15.1 7.4,-15.4 7.5,-15.7 7.6,-16.0 7.9,-16.3 8.1,-16.6 8.4,-17.0 8.7,-17.3 9.1,-17.6 9.5,-17.9 9.8,-18.1 10.3,-18.2 10.7,-18.4 11.3,-18.5 11.8,-18.6 12.3,-18.7 12.9,-18.7 13.4,-18.8 14.0,-18.7 14.5,-18.7 15.1,-18.6 15.7,-18.4 16.3,-18.3 16.9,-18.1 17.4,-17.9 17.8,-17.7 18.1,-17.5Z"/></g>
<g transform="translate(87.90,452.20)" fill="#111"><circle cx="0" cy="0" r="1.55"/><path d="M0.4,0.2 0.4,0.4 0.4,0.7 0.3,1.0 0.3,1.3 0.2,1.6 0.1,1.9 -0.0,2.2 -0.1,2.5 -0.3,2.8 -0.5,3.0 -0.7,3.3 -0.9,3.6 -1.2,3.9 -1.4,4.2 -1.7,4.4 -1.9,4.6 -2.1,4.8 -2.4,5.0 -2.7,5.2 -2.9,5.4 -3.2,5.5 -3.4,5.7 -3.6,5.8 -3.8,5.9 -3.4,6.5 -3.3,6.4 -3.1,6.4 -2.8,6.2 -2.5,6.1 -2.2,6.0 -1.9,5.8 -1.6,5.6 -1.3,5.4 -1.0,5.1 -0.7,4.9 -0.4,4.6 -0.1,4.3 0.2,4.0 0.4,3.7 0.7,3.4 0.9,3.1 1.1,2.8 1.3,2.4 1.5,2.0 1.6,1.7 1.7,1.3 1.8,1.0 1.9,0.8 2.0,0.6Z"/></g>
<g transform="translate(94.20,454.00)" fill="#111"><path d="M9.9,-20.0 L20.4,-20.4 L19.6,-19.1 L14.6,-17.3 L10.2,-16.5Z"/><path d="M9.9,-19.3 9.4,-18.5 8.6,-17.3 7.6,-15.9 6.6,-14.4 5.6,-12.9 4.7,-11.5 3.9,-10.3 3.4,-9.5 4.2,-8.9 4.8,-9.7 5.6,-10.9 6.5,-12.3 7.6,-13.8 8.6,-15.3 9.5,-16.7 10.3,-17.8 10.9,-18.7Z"/><path d="M4.1,-8.8 4.4,-9.0 4.7,-9.3 5.0,-9.7 5.4,-10.1 5.8,-10.4 6.2,-10.8 6.6,-11.1 7.0,-11.3 7.5,-11.5 7.9,-11.7 8.4,-11.8 8.9,-12.0 9.5,-12.1 9.9,-12.1 10.4,-12.2 10.8,-12.2 11.2,-12.1 11.6,-12.0 11.9,-11.9 12.2,-11.8 12.4,-11.6 12.6,-11.5 12.7,-11.3 12.8,-11.1 12.9,-11.0 13.0,-10.8 13.1,-10.6 13.2,-10.4 13.3,-10.2 13.3,-9.9 13.3,-9.7 13.3,-9.5 13.3,-9.4 13.3,-9.2 13.3,-8.9 13.3,-8.7 13.2,-8.4 13.1,-8.1 13.0,-7.8 12.9,-7.5 12.7,-7.2 12.6,-6.9 12.4,-6.5 12.1,-6.1 11.9,-5.7 11.6,-5.3 11.3,-4.9 11.0,-4.6 10.7,-4.2 10.4,-3.8 10.1,-3.5 9.8,-3.1 9.5,-2.8 9.2,-2.5 8.8,-2.2 8.5,-1.9 8.0,-1.7 7.6,-1.5 7.1,-1.3 6.6,-1.1 6.1,-0.9 5.7,-0.8 5.2,-0.7 4.8,-0.6 4.3,-0.6 3.9,-0.6 3.5,-0.6 3.1,-0.6 2.7,-0.7 2.4,-0.7 2.1,-0.8 1.8,-0.9 1.6,-1.1 1.4,-1.3 1.2,-1.5 1.1,-1.8 0.9,-2.0 0.8,-2.3 0.7,-2.5 0.7,-2.7 0.7,-2.9 0.7,-3.0 0.7,-3.2 0.8,-3.4 0.9,-3.7 1.0,-3.9 1.1,-4.1 1.2,-4.2 1.4,-4.3 1.5,-4.4 1.8,-4.6 2.0,-4.7 2.2,-4.8 2.5,-4.9 2.7,-5.0 2.9,-5.1 2.3,-6.1 2.2,-6.1 2.0,-6.0 1.8,-5.9 1.5,-5.8 1.2,-5.6 0.9,-5.4 0.6,-5.2 0.4,-5.0 0.2,-4.7 -0.0,-4.5 -0.2,-4.2 -0.3,-3.9 -0.4,-3.6 -0.5,-3.2 -0.5,-2.9 -0.5,-2.5 -0.4,-2.1 -0.2,-1.8 -0.1,-1.5 0.1,-1.1 0.4,-0.8 0.7,-0.5 1.0,-0.3 1.4,-0.1 1.7,0.1 2.1,0.2 2.5,0.3 3.0,0.4 3.4,0.4 3.9,0.5 4.4,0.4 4.8,0.4 5.3,0.4 5.9,0.3 6.4,0.3 7.0,0.2 7.5,0.0 8.1,-0.1 8.6,-0.3 9.1,-0.5 9.7,-0.7 10.2,-0.9 10.7,-1.1 11.2,-1.4 11.6,-1.7 12.1,-2.0 12.6,-2.3 13.0,-2.6 13.4,-3.0 13.8,-3.4 14.2,-3.8 14.6,-4.2 15.0,-4.7 15.3,-5.1 15.6,-5.6 15.9,-6.1 16.1,-6.5 16.3,-7.0 16.5,-7.5 16.6,-8.0 16.7,-8.5 16.7,-9.0 16.7,-9.5 16.7,-10.1 16.5,-10.6 16.3,-11.0 16.1,-11.5 15.8,-11.9 15.5,-12.3 15.2,-12.7 14.8,-13.0 14.4,-13.3 13.9,-13.4 13.5,-13.6 13.0,-13.6 12.6,-13.6 12.1,-13.6 11.7,-13.6 11.2,-13.5 10.8,-13.4 10.3,-13.3 9.8,-13.3 9.2,-13.2 8.7,-13.0 8.1,-12.9 7.6,-12.7 7.1,-12.5 6.6,-12.3 6.1,-12.0 5.6,-11.6 5.1,-11.2 4.7,-10.8 4.3,-10.4 4.0,-10.1 3.7,-9.8 3.5,-9.6Z"/><circle cx="2.8" cy="-5.2" r="1.65"/></g>
<g transform="translate(204.40,512.20)" fill="#111"><path d="M8.5,-14.4 8.6,-14.6 8.7,-15.0 8.9,-15.4 9.1,-15.8 9.3,-16.2 9.5,-16.6 9.7,-17.0 10.0,-17.2 10.2,-17.5 10.6,-17.7 10.9,-17.9 11.3,-18.1 11.7,-18.3 12.1,-18.4 12.6,-18.6 12.9,-18.7 13.3,-18.8 13.7,-18.9 14.1,-19.0 14.5,-19.0 14.9,-19.0 15.2,-19.0 15.6,-19.0 16.0,-19.0 16.3,-18.9 16.7,-18.8 17.0,-18.6 17.3,-18.5 17.6,-18.3 17.8,-18.2 18.0,-18.0 18.1,-17.8 18.2,-17.7 18.2,-17.5 18.3,-17.3 18.3,-17.1 18.3,-16.9 18.4,-16.7 18.3,-16.5 18.3,-16.3 18.3,-16.2 18.4,-16.0 18.3,-15.8 18.3,-15.6 18.3,-15.4 18.2,-15.2 18.1,-14.9 18.0,-14.7 18.0,-14.4 17.8,-14.1 17.7,-13.8 17.6,-13.5 17.4,-13.2 17.2,-12.9 16.9,-12.5 16.6,-12.2 16.3,-11.9 16.0,-11.6 15.6,-11.2 15.1,-10.9 14.7,-10.5 14.2,-10.1 13.6,-9.7 13.0,-9.3 12.4,-8.9 11.7,-8.5 11.0,-8.1 10.2,-7.7 9.5,-7.2 8.7,-6.8 7.9,-6.3 7.2,-5.9 6.5,-5.5 5.8,-5.1 5.1,-4.6 4.4,-4.2 3.7,-3.8 3.1,-3.4 2.6,-3.0 2.1,-2.7 1.7,-2.4 1.3,-2.2 1.0,-2.0 0.7,-1.8 0.5,-1.6 0.3,-1.5 0.2,-1.4 0.0,-1.3 0.8,-0.3 0.9,-0.4 1.1,-0.5 1.2,-0.7 1.4,-0.8 1.7,-1.0 2.0,-1.2 2.3,-1.4 2.7,-1.7 3.2,-2.0 3.8,-2.3 4.4,-2.6 5.1,-3.0 5.8,-3.4 6.5,-3.7 7.3,-4.1 8.0,-4.5 8.7,-4.9 9.5,-5.2 10.3,-5.6 11.1,-6.0 11.9,-6.3 12.7,-6.7 13.5,-7.1 14.2,-7.5 14.8,-7.8 15.4,-8.1 16.0,-8.5 16.6,-8.8 17.1,-9.1 17.6,-9.5 18.1,-9.8 18.6,-10.2 19.0,-10.6 19.4,-10.9 19.8,-11.3 20.1,-11.7 20.4,-12.1 20.7,-12.5 20.9,-12.9 21.2,-13.3 21.3,-13.7 21.5,-14.2 21.6,-14.6 21.7,-15.1 21.7,-15.5 21.8,-16.0 21.7,-16.4 21.7,-16.9 21.5,-17.3 21.3,-17.7 21.1,-18.1 20.9,-18.5 20.6,-18.8 20.3,-19.2 19.9,-19.5 19.5,-19.8 19.1,-20.0 18.6,-20.1 18.2,-20.2 17.8,-20.2 17.3,-20.3 16.9,-20.3 16.5,-20.2 16.0,-20.2 15.6,-20.2 15.2,-20.2 14.8,-20.2 14.4,-20.1 13.9,-20.0 13.5,-19.9 13.1,-19.8 12.7,-19.7 12.2,-19.6 11.8,-19.4 11.3,-19.2 10.9,-19.0 10.4,-18.8 10.0,-18.6 9.6,-18.3 9.2,-18.0 8.9,-17.6 8.6,-17.1 8.4,-16.7 8.1,-16.2 7.9,-15.8 7.8,-15.4 7.6,-15.0 7.5,-14.8Z"/><path d="M0.0,0.0 L12.6,0.0 L15.6,-6.2 L14.9,-6.2 L11.8,-1.8 L1.6,-1.8Z"/><circle cx="8.4" cy="-14.1" r="1.75"/></g>
<g transform="translate(221.80,512.40)" fill="#111"><path d="M18.7,-18.5 18.3,-18.7 17.8,-19.0 17.3,-19.2 16.6,-19.4 16.0,-19.6 15.3,-19.7 14.7,-19.8 14.0,-19.9 13.4,-19.9 12.8,-19.9 12.2,-19.8 11.6,-19.8 11.0,-19.6 10.4,-19.5 9.9,-19.3 9.4,-19.1 8.9,-18.9 8.4,-18.6 7.9,-18.3 7.5,-18.0 7.1,-17.6 6.7,-17.3 6.4,-16.9 6.1,-16.5 5.9,-16.2 5.6,-15.8 5.4,-15.4 5.3,-15.0 5.2,-14.5 5.2,-13.9 5.3,-13.4 5.5,-12.8 5.8,-12.2 6.2,-11.7 6.6,-11.2 7.1,-10.7 7.6,-10.2 8.1,-9.8 8.5,-9.4 9.0,-8.9 9.5,-8.6 10.1,-8.2 10.6,-7.9 11.1,-7.7 11.6,-7.4 11.9,-7.2 12.2,-7.0 12.5,-6.8 12.7,-6.6 13.0,-6.4 13.2,-6.2 13.4,-6.0 13.5,-5.9 13.7,-5.7 13.7,-5.5 13.8,-5.3 13.8,-5.1 13.8,-4.7 13.6,-4.4 13.5,-4.0 13.3,-3.6 13.1,-3.3 12.8,-2.9 12.4,-2.6 12.0,-2.3 11.5,-2.0 11.0,-1.8 10.4,-1.5 9.8,-1.3 9.1,-1.1 8.5,-1.0 7.9,-0.9 7.3,-0.8 6.6,-0.7 5.9,-0.7 5.3,-0.7 4.6,-0.7 4.0,-0.8 3.4,-0.8 3.0,-0.9 2.6,-1.1 2.2,-1.3 1.9,-1.5 1.6,-1.7 1.4,-1.9 1.3,-2.2 1.1,-2.4 1.1,-2.7 1.0,-3.0 1.1,-3.3 1.1,-3.6 1.2,-4.0 1.3,-4.4 1.5,-4.8 1.7,-5.2 1.9,-5.5 2.1,-5.8 2.4,-6.1 2.7,-6.5 3.1,-6.8 3.5,-7.1 4.0,-7.5 4.5,-7.8 5.1,-8.2 5.7,-8.5 6.4,-8.9 7.2,-9.2 8.0,-9.6 8.8,-9.9 9.6,-10.2 10.3,-10.6 11.0,-10.9 11.7,-11.2 12.3,-11.4 13.0,-11.6 13.6,-11.9 14.2,-12.1 14.8,-12.4 15.4,-12.6 15.9,-12.9 16.4,-13.1 16.9,-13.4 17.4,-13.7 17.8,-14.0 18.3,-14.3 18.6,-14.6 19.0,-14.9 19.3,-15.3 19.5,-15.7 19.6,-16.1 19.7,-16.5 19.7,-16.9 19.6,-17.4 19.4,-17.8 19.1,-18.2 18.8,-18.4 18.0,-17.6 18.2,-17.4 18.2,-17.2 18.3,-17.1 18.3,-16.9 18.2,-16.7 18.2,-16.5 18.1,-16.3 17.9,-16.1 17.8,-15.9 17.6,-15.7 17.3,-15.4 17.0,-15.1 16.6,-14.8 16.2,-14.5 15.8,-14.2 15.3,-13.9 14.8,-13.7 14.3,-13.4 13.8,-13.2 13.2,-13.0 12.6,-12.7 11.9,-12.5 11.3,-12.2 10.6,-11.9 9.9,-11.6 9.1,-11.3 8.3,-11.0 7.5,-10.6 6.7,-10.3 5.9,-9.9 5.2,-9.6 4.5,-9.2 3.9,-8.9 3.3,-8.6 2.8,-8.3 2.2,-8.0 1.7,-7.7 1.3,-7.3 0.9,-6.9 0.5,-6.5 0.2,-6.0 -0.1,-5.5 -0.2,-4.9 -0.4,-4.4 -0.4,-3.8 -0.4,-3.3 -0.4,-2.8 -0.3,-2.3 -0.1,-1.9 0.2,-1.5 0.5,-1.1 0.8,-0.8 1.2,-0.5 1.6,-0.2 2.1,-0.0 2.6,0.1 3.2,0.3 3.8,0.4 4.5,0.4 5.2,0.5 6.0,0.5 6.7,0.4 7.4,0.4 8.1,0.3 8.8,0.1 9.4,-0.0 10.1,-0.2 10.8,-0.5 11.5,-0.7 12.1,-1.0 12.6,-1.3 13.2,-1.6 13.6,-1.9 14.1,-2.3 14.5,-2.7 14.9,-3.2 15.2,-3.6 15.4,-4.1 15.6,-4.6 15.8,-5.1 15.9,-5.6 15.9,-6.1 15.9,-6.6 15.7,-7.2 15.5,-7.6 15.3,-8.1 15.1,-8.6 14.7,-9.0 14.3,-9.5 13.8,-9.8 13.3,-10.2 12.8,-10.5 12.3,-10.8 11.8,-11.1 11.4,-11.4 11.0,-11.7 10.5,-12.0 10.0,-12.3 9.4,-12.6 8.9,-13.0 8.5,-13.3 8.1,-13.6 7.7,-13.8 7.5,-14.0 7.4,-14.1 7.3,-14.3 7.3,-14.4 7.2,-14.6 7.2,-14.8 7.3,-15.1 7.4,-15.4 7.5,-15.7 7.6,-16.0 7.9,-16.3 8.1,-16.6 8.4,-17.0 8.7,-17.3 9.1,-17.6 9.5,-17.9 9.8,-18.1 10.3,-18.2 10.7,-18.4 11.3,-18.5 11.8,-18.6 12.3,-18.7 12.9,-18.7 13.4,-18.8 14.0,-18.7 14.5,-18.7 15.1,-18.6 15.7,-18.4 16.3,-18.3 16.9,-18.1 17.4,-17.9 17.8,-17.7 18.1,-17.5Z"/></g>
<g transform="translate(182.00,544.60)" fill="#111"><circle cx="7.4" cy="-15.4" r="1.6"/><path d="M7.1,-16.2 7.4,-16.4 7.6,-16.7 8.0,-17.0 8.3,-17.4 8.7,-17.7 9.1,-18.1 9.5,-18.3 9.8,-18.5 10.2,-18.7 10.6,-18.8 11.1,-19.0 11.5,-19.0 12.0,-19.1 12.4,-19.2 12.8,-19.2 13.2,-19.2 13.6,-19.1 13.9,-19.0 14.2,-18.9 14.5,-18.8 14.8,-18.6 15.1,-18.5 15.3,-18.3 15.4,-18.2 15.6,-18.0 15.7,-17.9 15.8,-17.7 15.9,-17.5 16.0,-17.4 16.0,-17.2 16.1,-17.1 16.1,-17.0 16.1,-16.9 16.1,-16.8 16.1,-16.6 16.1,-16.4 16.1,-16.2 16.1,-16.0 16.0,-15.8 15.9,-15.6 15.9,-15.4 15.8,-15.1 15.7,-14.9 15.5,-14.6 15.4,-14.3 15.2,-14.1 15.0,-13.8 14.8,-13.6 14.6,-13.4 14.3,-13.1 14.0,-12.9 13.8,-12.7 13.5,-12.5 13.2,-12.3 12.9,-12.1 12.6,-12.0 12.3,-11.9 12.0,-11.8 11.7,-11.7 11.4,-11.6 11.2,-11.5 10.9,-11.5 10.7,-11.4 10.5,-11.4 10.7,-10.4 10.9,-10.4 11.1,-10.4 11.3,-10.5 11.6,-10.5 12.0,-10.6 12.3,-10.6 12.7,-10.7 13.0,-10.8 13.4,-10.9 13.7,-11.0 14.1,-11.1 14.5,-11.3 14.9,-11.4 15.3,-11.6 15.7,-11.8 16.0,-12.0 16.4,-12.3 16.7,-12.5 17.0,-12.8 17.4,-13.1 17.7,-13.4 18.0,-13.7 18.2,-14.1 18.5,-14.4 18.6,-14.8 18.8,-15.2 18.9,-15.6 19.0,-16.0 19.0,-16.5 19.1,-16.9 19.0,-17.4 18.9,-17.8 18.8,-18.2 18.5,-18.6 18.3,-19.0 18.0,-19.3 17.7,-19.6 17.3,-19.8 17.0,-20.1 16.6,-20.2 16.2,-20.4 15.8,-20.5 15.3,-20.5 14.9,-20.5 14.5,-20.5 14.1,-20.5 13.6,-20.5 13.2,-20.4 12.7,-20.4 12.3,-20.3 11.8,-20.2 11.3,-20.1 10.8,-20.0 10.3,-19.9 9.8,-19.7 9.4,-19.5 8.9,-19.2 8.5,-18.9 8.0,-18.5 7.6,-18.1 7.3,-17.8 6.9,-17.4 6.7,-17.2 6.5,-17.0Z"/><path d="M6.6,-10.2 7.0,-10.2 7.4,-10.2 8.0,-10.3 8.6,-10.3 9.2,-10.3 9.8,-10.4 10.3,-10.4 10.6,-10.4 10.6,-11.4 10.2,-11.4 9.8,-11.4 9.2,-11.3 8.6,-11.3 8.0,-11.3 7.4,-11.2 6.9,-11.2 6.6,-11.2Z"/><path d="M10.4,-10.4 10.6,-10.3 10.8,-10.1 11.1,-10.0 11.4,-9.8 11.6,-9.6 11.8,-9.5 12.0,-9.3 12.0,-9.1 12.1,-9.0 12.1,-8.7 12.2,-8.5 12.2,-8.2 12.2,-8.0 12.1,-7.7 12.1,-7.5 12.0,-7.3 12.0,-7.1 11.9,-6.9 11.8,-6.6 11.7,-6.3 11.6,-6.0 11.4,-5.7 11.2,-5.5 11.0,-5.2 10.8,-4.8 10.6,-4.5 10.4,-4.2 10.1,-3.8 9.8,-3.5 9.5,-3.2 9.2,-2.9 8.9,-2.6 8.6,-2.3 8.2,-2.0 7.8,-1.8 7.3,-1.5 6.9,-1.3 6.4,-1.1 5.9,-0.9 5.5,-0.7 5.1,-0.6 4.6,-0.6 4.1,-0.6 3.7,-0.6 3.3,-0.6 2.9,-0.6 2.5,-0.7 2.2,-0.8 1.9,-0.9 1.6,-1.1 1.4,-1.2 1.2,-1.4 1.0,-1.6 0.9,-1.8 0.7,-2.0 0.7,-2.2 0.6,-2.4 0.6,-2.6 0.6,-2.9 0.6,-3.2 0.7,-3.4 0.7,-3.7 0.8,-3.9 0.9,-4.1 1.0,-4.2 1.1,-4.3 1.3,-4.4 1.6,-4.5 1.8,-4.6 2.1,-4.7 2.3,-4.8 2.4,-4.9 2.0,-5.9 1.8,-5.9 1.6,-5.8 1.4,-5.7 1.1,-5.6 0.8,-5.5 0.5,-5.3 0.1,-5.0 -0.1,-4.7 -0.3,-4.4 -0.4,-4.1 -0.5,-3.7 -0.6,-3.3 -0.6,-2.9 -0.6,-2.5 -0.6,-2.2 -0.5,-1.8 -0.3,-1.5 -0.1,-1.2 0.2,-0.9 0.4,-0.6 0.7,-0.4 1.1,-0.1 1.4,0.0 1.8,0.2 2.2,0.3 2.7,0.4 3.1,0.5 3.6,0.5 4.1,0.6 4.7,0.6 5.2,0.5 5.7,0.5 6.2,0.5 6.8,0.4 7.4,0.4 8.0,0.3 8.5,0.2 9.1,0.0 9.7,-0.2 10.3,-0.4 10.8,-0.7 11.3,-1.0 11.8,-1.3 12.2,-1.7 12.7,-2.1 13.1,-2.4 13.4,-2.8 13.8,-3.2 14.1,-3.7 14.3,-4.1 14.6,-4.6 14.8,-5.1 14.9,-5.6 15.1,-6.1 15.1,-6.6 15.2,-7.1 15.1,-7.6 15.0,-8.1 14.8,-8.6 14.7,-9.0 14.4,-9.4 14.2,-9.8 13.9,-10.1 13.6,-10.5 13.2,-10.7 12.7,-11.0 12.3,-11.1 11.9,-11.2 11.6,-11.3 11.2,-11.3 11.0,-11.4 10.8,-11.4Z"/><circle cx="2.4" cy="-5.0" r="1.7"/></g>
<g transform="translate(198.80,544.60)" fill="#111"><path d="M13.7,-12.0 13.5,-11.8 13.2,-11.6 12.8,-11.3 12.4,-11.0 12.0,-10.7 11.5,-10.5 11.1,-10.3 10.6,-10.1 10.1,-10.0 9.6,-9.8 8.9,-9.7 8.3,-9.7 7.7,-9.6 7.1,-9.6 6.6,-9.7 6.2,-9.8 5.8,-10.0 5.5,-10.2 5.2,-10.4 5.0,-10.7 4.9,-11.0 4.7,-11.3 4.7,-11.6 4.7,-11.8 4.6,-12.0 4.6,-12.4 4.7,-12.8 4.8,-13.3 4.9,-13.7 5.1,-14.2 5.3,-14.7 5.5,-15.1 5.8,-15.5 6.1,-16.0 6.5,-16.4 6.9,-16.9 7.3,-17.3 7.7,-17.7 8.2,-18.0 8.6,-18.4 9.1,-18.6 9.6,-18.8 10.2,-19.0 10.7,-19.1 11.3,-19.2 11.8,-19.3 12.3,-19.4 12.8,-19.4 13.3,-19.3 13.7,-19.2 14.2,-19.1 14.6,-18.9 15.0,-18.7 15.3,-18.5 15.6,-18.3 15.7,-18.1 15.8,-17.9 15.9,-17.6 15.9,-17.3 15.9,-17.0 15.9,-16.7 15.9,-16.3 15.9,-16.0 15.8,-15.6 15.8,-15.3 15.7,-14.9 15.6,-14.5 15.5,-14.1 15.4,-13.7 15.2,-13.2 15.1,-12.8 14.9,-12.3 14.7,-11.8 14.4,-11.3 14.1,-10.8 13.8,-10.3 13.5,-9.7 13.1,-9.2 12.8,-8.6 12.4,-8.1 12.1,-7.6 11.7,-7.0 11.3,-6.5 10.9,-5.9 10.5,-5.4 10.1,-4.9 9.7,-4.4 9.3,-4.0 8.9,-3.5 8.5,-3.1 8.0,-2.7 7.6,-2.4 7.1,-2.0 6.6,-1.7 6.2,-1.4 5.8,-1.2 5.3,-1.0 4.9,-0.8 4.5,-0.7 4.0,-0.7 3.6,-0.6 3.2,-0.6 2.8,-0.6 2.5,-0.6 2.2,-0.7 1.8,-0.8 1.6,-0.9 1.3,-1.1 1.0,-1.2 0.8,-1.4 0.7,-1.6 0.6,-1.7 0.6,-1.8 0.6,-1.9 0.6,-2.2 0.7,-2.4 0.8,-2.7 0.9,-3.0 0.9,-3.3 1.0,-3.5 -0.2,-3.7 -0.2,-3.6 -0.3,-3.4 -0.4,-3.1 -0.5,-2.7 -0.6,-2.4 -0.6,-2.0 -0.6,-1.5 -0.4,-1.1 -0.2,-0.8 0.1,-0.5 0.4,-0.3 0.7,-0.1 1.1,0.1 1.5,0.2 1.9,0.3 2.3,0.4 2.8,0.5 3.2,0.5 3.7,0.5 4.2,0.4 4.7,0.4 5.2,0.3 5.7,0.1 6.2,-0.0 6.8,-0.2 7.3,-0.5 7.9,-0.7 8.4,-1.0 9.0,-1.3 9.6,-1.7 10.1,-2.1 10.7,-2.4 11.2,-2.9 11.7,-3.3 12.3,-3.8 12.8,-4.3 13.3,-4.8 13.8,-5.3 14.3,-5.8 14.8,-6.3 15.2,-6.8 15.7,-7.4 16.1,-8.0 16.5,-8.5 16.9,-9.1 17.3,-9.7 17.6,-10.3 17.9,-10.9 18.2,-11.5 18.4,-12.1 18.6,-12.7 18.7,-13.3 18.9,-13.9 18.9,-14.4 19.0,-15.0 19.0,-15.6 18.9,-16.1 18.8,-16.7 18.6,-17.2 18.4,-17.7 18.2,-18.2 17.9,-18.7 17.5,-19.2 17.1,-19.5 16.6,-19.8 16.1,-20.1 15.6,-20.2 15.0,-20.3 14.5,-20.4 13.9,-20.5 13.3,-20.5 12.8,-20.4 12.2,-20.4 11.7,-20.3 11.1,-20.2 10.5,-20.1 9.9,-20.0 9.3,-19.8 8.7,-19.5 8.2,-19.2 7.6,-19.0 7.0,-18.7 6.5,-18.3 5.9,-17.9 5.4,-17.5 4.9,-17.0 4.5,-16.6 4.1,-16.1 3.7,-15.6 3.4,-15.0 3.1,-14.4 2.9,-13.8 2.7,-13.2 2.5,-12.6 2.5,-12.0 2.5,-11.4 2.7,-10.8 3.0,-10.3 3.4,-9.9 3.8,-9.5 4.3,-9.2 4.8,-8.9 5.3,-8.7 5.8,-8.6 6.4,-8.5 7.1,-8.5 7.7,-8.5 8.4,-8.6 9.1,-8.7 9.8,-8.8 10.4,-8.9 11.0,-9.1 11.5,-9.3 12.0,-9.6 12.5,-9.9 13.0,-10.2 13.4,-10.5 13.8,-10.8 14.1,-11.0 14.3,-11.2Z"/><circle cx="1.4" cy="-3.9" r="1.65"/></g>
<g transform="translate(542.30,120.60)" fill="#111"><path d="M18.7,-18.5 18.3,-18.7 17.8,-19.0 17.3,-19.2 16.6,-19.4 16.0,-19.6 15.3,-19.7 14.7,-19.8 14.0,-19.9 13.4,-19.9 12.8,-19.9 12.2,-19.8 11.6,-19.8 11.0,-19.6 10.4,-19.5 9.9,-19.3 9.4,-19.1 8.9,-18.9 8.4,-18.6 7.9,-18.3 7.5,-18.0 7.1,-17.6 6.7,-17.3 6.4,-16.9 6.1,-16.5 5.9,-16.2 5.6,-15.8 5.4,-15.4 5.3,-15.0 5.2,-14.5 5.2,-13.9 5.3,-13.4 5.5,-12.8 5.8,-12.2 6.2,-11.7 6.6,-11.2 7.1,-10.7 7.6,-10.2 8.1,-9.8 8.5,-9.4 9.0,-8.9 9.5,-8.6 10.1,-8.2 10.6,-7.9 11.1,-7.7 11.6,-7.4 11.9,-7.2 12.2,-7.0 12.5,-6.8 12.7,-6.6 13.0,-6.4 13.2,-6.2 13.4,-6.0 13.5,-5.9 13.7,-5.7 13.7,-5.5 13.8,-5.3 13.8,-5.1 13.8,-4.7 13.6,-4.4 13.5,-4.0 13.3,-3.6 13.1,-3.3 12.8,-2.9 12.4,-2.6 12.0,-2.3 11.5,-2.0 11.0,-1.8 10.4,-1.5 9.8,-1.3 9.1,-1.1 8.5,-1.0 7.9,-0.9 7.3,-0.8 6.6,-0.7 5.9,-0.7 5.3,-0.7 4.6,-0.7 4.0,-0.8 3.4,-0.8 3.0,-0.9 2.6,-1.1 2.2,-1.3 1.9,-1.5 1.6,-1.7 1.4,-1.9 1.3,-2.2 1.1,-2.4 1.1,-2.7 1.0,-3.0 1.1,-3.3 1.1,-3.6 1.2,-4.0 1.3,-4.4 1.5,-4.8 1.7,-5.2 1.9,-5.5 2.1,-5.8 2.4,-6.1 2.7,-6.5 3.1,-6.8 3.5,-7.1 4.0,-7.5 4.5,-7.8 5.1,-8.2 5.7,-8.5 6.4,-8.9 7.2,-9.2 8.0,-9.6 8.8,-9.9 9.6,-10.2 10.3,-10.6 11.0,-10.9 11.7,-11.2 12.3,-11.4 13.0,-11.6 13.6,-11.9 14.2,-12.1 14.8,-12.4 15.4,-12.6 15.9,-12.9 16.4,-13.1 16.9,-13.4 17.4,-13.7 17.8,-14.0 18.3,-14.3 18.6,-14.6 19.0,-14.9 19.3,-15.3 19.5,-15.7 19.6,-16.1 19.7,-16.5 19.7,-16.9 19.6,-17.4 19.4,-17.8 19.1,-18.2 18.8,-18.4 18.0,-17.6 18.2,-17.4 18.2,-17.2 18.3,-17.1 18.3,-16.9 18.2,-16.7 18.2,-16.5 18.1,-16.3 17.9,-16.1 17.8,-15.9 17.6,-15.7 17.3,-15.4 17.0,-15.1 16.6,-14.8 16.2,-14.5 15.8,-14.2 15.3,-13.9 14.8,-13.7 14.3,-13.4 13.8,-13.2 13.2,-13.0 12.6,-12.7 11.9,-12.5 11.3,-12.2 10.6,-11.9 9.9,-11.6 9.1,-11.3 8.3,-11.0 7.5,-10.6 6.7,-10.3 5.9,-9.9 5.2,-9.6 4.5,-9.2 3.9,-8.9 3.3,-8.6 2.8,-8.3 2.2,-8.0 1.7,-7.7 1.3,-7.3 0.9,-6.9 0.5,-6.5 0.2,-6.0 -0.1,-5.5 -0.2,-4.9 -0.4,-4.4 -0.4,-3.8 -0.4,-3.3 -0.4,-2.8 -0.3,-2.3 -0.1,-1.9 0.2,-1.5 0.5,-1.1 0.8,-0.8 1.2,-0.5 1.6,-0.2 2.1,-0.0 2.6,0.1 3.2,0.3 3.8,0.4 4.5,0.4 5.2,0.5 6.0,0.5 6.7,0.4 7.4,0.4 8.1,0.3 8.8,0.1 9.4,-0.0 10.1,-0.2 10.8,-0.5 11.5,-0.7 12.1,-1.0 12.6,-1.3 13.2,-1.6 13.6,-1.9 14.1,-2.3 14.5,-2.7 14.9,-3.2 15.2,-3.6 15.4,-4.1 15.6,-4.6 15.8,-5.1 15.9,-5.6 15.9,-6.1 15.9,-6.6 15.7,-7.2 15.5,-7.6 15.3,-8.1 15.1,-8.6 14.7,-9.0 14.3,-9.5 13.8,-9.8 13.3,-10.2 12.8,-10.5 12.3,-10.8 11.8,-11.1 11.4,-11.4 11.0,-11.7 10.5,-12.0 10.0,-12.3 9.4,-12.6 8.9,-13.0 8.5,-13.3 8.1,-13.6 7.7,-13.8 7.5,-14.0 7.4,-14.1 7.3,-14.3 7.3,-14.4 7.2,-14.6 7.2,-14.8 7.3,-15.1 7.4,-15.4 7.5,-15.7 7.6,-16.0 7.9,-16.3 8.1,-16.6 8.4,-17.0 8.7,-17.3 9.1,-17.6 9.5,-17.9 9.8,-18.1 10.3,-18.2 10.7,-18.4 11.3,-18.5 11.8,-18.6 12.3,-18.7 12.9,-18.7 13.4,-18.8 14.0,-18.7 14.5,-18.7 15.1,-18.6 15.7,-18.4 16.3,-18.3 16.9,-18.1 17.4,-17.9 17.8,-17.7 18.1,-17.5Z"/></g>
<g transform="translate(607.10,201.30)" fill="#111"><path d="M8.2,-17.6 L16.6,-20.3 L15.6,-18.2 L8.6,-16.6Z"/><path d="M15.2,-19.0 L17.2,-20.3 L8.8,-0.9 L5.5,-0.9Z"/><path d="M0.1,-0.1 1.1,-0.1 2.4,-0.1 4.1,-0.1 5.8,-0.1 7.6,-0.1 9.3,-0.1 10.6,-0.1 11.6,-0.1 11.6,-1.4 10.6,-1.4 9.3,-1.4 7.6,-1.4 5.8,-1.4 4.1,-1.4 2.4,-1.4 1.1,-1.4 0.1,-1.4Z"/></g>
<g transform="translate(623.10,201.50)" fill="#111"><path transform="translate(8.6,-10.35) rotate(27)" fill-rule="evenodd" d="M-7.2,0 A7.2,10.9 0 1 0 7.2,0 A7.2,10.9 0 1 0 -7.2,0 Z M-4.3,0 A4.3,9.9 0 1 0 4.3,0 A4.3,9.9 0 1 0 -4.3,0 Z"/></g>
<g transform="translate(529.20,237.00)" fill="#111"><path d="M17.2,-20.3 15.8,-19.1 13.7,-17.4 11.2,-15.5 8.6,-13.3 5.9,-11.2 3.4,-9.2 1.4,-7.5 -0.1,-6.4 0.7,-5.4 2.1,-6.6 4.2,-8.3 6.7,-10.2 9.3,-12.4 12.0,-14.5 14.5,-16.5 16.5,-18.2 18.0,-19.3Z"/><path d="M17.0,-20.3 L18.4,-20.1 L14.6,-10.5 L9.6,-0.9 L6.0,-0.9 L10.8,-10.5Z"/><path d="M0.1,-5.1 1.3,-5.1 3.0,-5.1 5.1,-5.1 7.4,-5.1 9.6,-5.1 11.7,-5.1 13.4,-5.1 14.6,-5.2 14.6,-6.5 13.4,-6.5 11.7,-6.5 9.6,-6.5 7.3,-6.5 5.1,-6.5 3.0,-6.5 1.3,-6.5 0.1,-6.5Z"/><path d="M3.0,-0.2 3.7,-0.2 4.7,-0.2 5.8,-0.2 7.1,-0.2 8.4,-0.2 9.5,-0.2 10.5,-0.2 11.2,-0.3 11.2,-1.4 10.5,-1.4 9.5,-1.4 8.4,-1.4 7.1,-1.4 5.8,-1.4 4.7,-1.4 3.7,-1.4 3.0,-1.4Z"/></g>
<g transform="translate(396.60,334.10)" fill="#111"><path d="M9.9,-20.0 L20.4,-20.4 L19.6,-19.1 L14.6,-17.3 L10.2,-16.5Z"/><path d="M9.9,-19.3 9.4,-18.5 8.6,-17.3 7.6,-15.9 6.6,-14.4 5.6,-12.9 4.7,-11.5 3.9,-10.3 3.4,-9.5 4.2,-8.9 4.8,-9.7 5.6,-10.9 6.5,-12.3 7.6,-13.8 8.6,-15.3 9.5,-16.7 10.3,-17.8 10.9,-18.7Z"/><path d="M4.1,-8.8 4.4,-9.0 4.7,-9.3 5.0,-9.7 5.4,-10.1 5.8,-10.4 6.2,-10.8 6.6,-11.1 7.0,-11.3 7.5,-11.5 7.9,-11.7 8.4,-11.8 8.9,-12.0 9.5,-12.1 9.9,-12.1 10.4,-12.2 10.8,-12.2 11.2,-12.1 11.6,-12.0 11.9,-11.9 12.2,-11.8 12.4,-11.6 12.6,-11.5 12.7,-11.3 12.8,-11.1 12.9,-11.0 13.0,-10.8 13.1,-10.6 13.2,-10.4 13.3,-10.2 13.3,-9.9 13.3,-9.7 13.3,-9.5 13.3,-9.4 13.3,-9.2 13.3,-8.9 13.3,-8.7 13.2,-8.4 13.1,-8.1 13.0,-7.8 12.9,-7.5 12.7,-7.2 12.6,-6.9 12.4,-6.5 12.1,-6.1 11.9,-5.7 11.6,-5.3 11.3,-4.9 11.0,-4.6 10.7,-4.2 10.4,-3.8 10.1,-3.5 9.8,-3.1 9.5,-2.8 9.2,-2.5 8.8,-2.2 8.5,-1.9 8.0,-1.7 7.6,-1.5 7.1,-1.3 6.6,-1.1 6.1,-0.9 5.7,-0.8 5.2,-0.7 4.8,-0.6 4.3,-0.6 3.9,-0.6 3.5,-0.6 3.1,-0.6 2.7,-0.7 2.4,-0.7 2.1,-0.8 1.8,-0.9 1.6,-1.1 1.4,-1.3 1.2,-1.5 1.1,-1.8 0.9,-2.0 0.8,-2.3 0.7,-2.5 0.7,-2.7 0.7,-2.9 0.7,-3.0 0.7,-3.2 0.8,-3.4 0.9,-3.7 1.0,-3.9 1.1,-4.1 1.2,-4.2 1.4,-4.3 1.5,-4.4 1.8,-4.6 2.0,-4.7 2.2,-4.8 2.5,-4.9 2.7,-5.0 2.9,-5.1 2.3,-6.1 2.2,-6.1 2.0,-6.0 1.8,-5.9 1.5,-5.8 1.2,-5.6 0.9,-5.4 0.6,-5.2 0.4,-5.0 0.2,-4.7 -0.0,-4.5 -0.2,-4.2 -0.3,-3.9 -0.4,-3.6 -0.5,-3.2 -0.5,-2.9 -0.5,-2.5 -0.4,-2.1 -0.2,-1.8 -0.1,-1.5 0.1,-1.1 0.4,-0.8 0.7,-0.5 1.0,-0.3 1.4,-0.1 1.7,0.1 2.1,0.2 2.5,0.3 3.0,0.4 3.4,0.4 3.9,0.5 4.4,0.4 4.8,0.4 5.3,0.4 5.9,0.3 6.4,0.3 7.0,0.2 7.5,0.0 8.1,-0.1 8.6,-0.3 9.1,-0.5 9.7,-0.7 10.2,-0.9 10.7,-1.1 11.2,-1.4 11.6,-1.7 12.1,-2.0 12.6,-2.3 13.0,-2.6 13.4,-3.0 13.8,-3.4 14.2,-3.8 14.6,-4.2 15.0,-4.7 15.3,-5.1 15.6,-5.6 15.9,-6.1 16.1,-6.5 16.3,-7.0 16.5,-7.5 16.6,-8.0 16.7,-8.5 16.7,-9.0 16.7,-9.5 16.7,-10.1 16.5,-10.6 16.3,-11.0 16.1,-11.5 15.8,-11.9 15.5,-12.3 15.2,-12.7 14.8,-13.0 14.4,-13.3 13.9,-13.4 13.5,-13.6 13.0,-13.6 12.6,-13.6 12.1,-13.6 11.7,-13.6 11.2,-13.5 10.8,-13.4 10.3,-13.3 9.8,-13.3 9.2,-13.2 8.7,-13.0 8.1,-12.9 7.6,-12.7 7.1,-12.5 6.6,-12.3 6.1,-12.0 5.6,-11.6 5.1,-11.2 4.7,-10.8 4.3,-10.4 4.0,-10.1 3.7,-9.8 3.5,-9.6Z"/><circle cx="2.8" cy="-5.2" r="1.65"/></g>
<g transform="translate(412.60,334.10)" fill="#111"><path d="M9.9,-20.0 L20.4,-20.4 L19.6,-19.1 L14.6,-17.3 L10.2,-16.5Z"/><path d="M9.9,-19.3 9.4,-18.5 8.6,-17.3 7.6,-15.9 6.6,-14.4 5.6,-12.9 4.7,-11.5 3.9,-10.3 3.4,-9.5 4.2,-8.9 4.8,-9.7 5.6,-10.9 6.5,-12.3 7.6,-13.8 8.6,-15.3 9.5,-16.7 10.3,-17.8 10.9,-18.7Z"/><path d="M4.1,-8.8 4.4,-9.0 4.7,-9.3 5.0,-9.7 5.4,-10.1 5.8,-10.4 6.2,-10.8 6.6,-11.1 7.0,-11.3 7.5,-11.5 7.9,-11.7 8.4,-11.8 8.9,-12.0 9.5,-12.1 9.9,-12.1 10.4,-12.2 10.8,-12.2 11.2,-12.1 11.6,-12.0 11.9,-11.9 12.2,-11.8 12.4,-11.6 12.6,-11.5 12.7,-11.3 12.8,-11.1 12.9,-11.0 13.0,-10.8 13.1,-10.6 13.2,-10.4 13.3,-10.2 13.3,-9.9 13.3,-9.7 13.3,-9.5 13.3,-9.4 13.3,-9.2 13.3,-8.9 13.3,-8.7 13.2,-8.4 13.1,-8.1 13.0,-7.8 12.9,-7.5 12.7,-7.2 12.6,-6.9 12.4,-6.5 12.1,-6.1 11.9,-5.7 11.6,-5.3 11.3,-4.9 11.0,-4.6 10.7,-4.2 10.4,-3.8 10.1,-3.5 9.8,-3.1 9.5,-2.8 9.2,-2.5 8.8,-2.2 8.5,-1.9 8.0,-1.7 7.6,-1.5 7.1,-1.3 6.6,-1.1 6.1,-0.9 5.7,-0.8 5.2,-0.7 4.8,-0.6 4.3,-0.6 3.9,-0.6 3.5,-0.6 3.1,-0.6 2.7,-0.7 2.4,-0.7 2.1,-0.8 1.8,-0.9 1.6,-1.1 1.4,-1.3 1.2,-1.5 1.1,-1.8 0.9,-2.0 0.8,-2.3 0.7,-2.5 0.7,-2.7 0.7,-2.9 0.7,-3.0 0.7,-3.2 0.8,-3.4 0.9,-3.7 1.0,-3.9 1.1,-4.1 1.2,-4.2 1.4,-4.3 1.5,-4.4 1.8,-4.6 2.0,-4.7 2.2,-4.8 2.5,-4.9 2.7,-5.0 2.9,-5.1 2.3,-6.1 2.2,-6.1 2.0,-6.0 1.8,-5.9 1.5,-5.8 1.2,-5.6 0.9,-5.4 0.6,-5.2 0.4,-5.0 0.2,-4.7 -0.0,-4.5 -0.2,-4.2 -0.3,-3.9 -0.4,-3.6 -0.5,-3.2 -0.5,-2.9 -0.5,-2.5 -0.4,-2.1 -0.2,-1.8 -0.1,-1.5 0.1,-1.1 0.4,-0.8 0.7,-0.5 1.0,-0.3 1.4,-0.1 1.7,0.1 2.1,0.2 2.5,0.3 3.0,0.4 3.4,0.4 3.9,0.5 4.4,0.4 4.8,0.4 5.3,0.4 5.9,0.3 6.4,0.3 7.0,0.2 7.5,0.0 8.1,-0.1 8.6,-0.3 9.1,-0.5 9.7,-0.7 10.2,-0.9 10.7,-1.1 11.2,-1.4 11.6,-1.7 12.1,-2.0 12.6,-2.3 13.0,-2.6 13.4,-3.0 13.8,-3.4 14.2,-3.8 14.6,-4.2 15.0,-4.7 15.3,-5.1 15.6,-5.6 15.9,-6.1 16.1,-6.5 16.3,-7.0 16.5,-7.5 16.6,-8.0 16.7,-8.5 16.7,-9.0 16.7,-9.5 16.7,-10.1 16.5,-10.6 16.3,-11.0 16.1,-11.5 15.8,-11.9 15.5,-12.3 15.2,-12.7 14.8,-13.0 14.4,-13.3 13.9,-13.4 13.5,-13.6 13.0,-13.6 12.6,-13.6 12.1,-13.6 11.7,-13.6 11.2,-13.5 10.8,-13.4 10.3,-13.3 9.8,-13.3 9.2,-13.2 8.7,-13.0 8.1,-12.9 7.6,-12.7 7.1,-12.5 6.6,-12.3 6.1,-12.0 5.6,-11.6 5.1,-11.2 4.7,-10.8 4.3,-10.4 4.0,-10.1 3.7,-9.8 3.5,-9.6Z"/><circle cx="2.8" cy="-5.2" r="1.65"/></g>
<g transform="translate(444.60,333.80)" fill="#111"><path d="M8.5,-14.4 8.6,-14.6 8.7,-15.0 8.9,-15.4 9.1,-15.8 9.3,-16.2 9.5,-16.6 9.7,-17.0 10.0,-17.2 10.2,-17.5 10.6,-17.7 10.9,-17.9 11.3,-18.1 11.7,-18.3 12.1,-18.4 12.6,-18.6 12.9,-18.7 13.3,-18.8 13.7,-18.9 14.1,-19.0 14.5,-19.0 14.9,-19.0 15.2,-19.0 15.6,-19.0 16.0,-19.0 16.3,-18.9 16.7,-18.8 17.0,-18.6 17.3,-18.5 17.6,-18.3 17.8,-18.2 18.0,-18.0 18.1,-17.8 18.2,-17.7 18.2,-17.5 18.3,-17.3 18.3,-17.1 18.3,-16.9 18.4,-16.7 18.3,-16.5 18.3,-16.3 18.3,-16.2 18.4,-16.0 18.3,-15.8 18.3,-15.6 18.3,-15.4 18.2,-15.2 18.1,-14.9 18.0,-14.7 18.0,-14.4 17.8,-14.1 17.7,-13.8 17.6,-13.5 17.4,-13.2 17.2,-12.9 16.9,-12.5 16.6,-12.2 16.3,-11.9 16.0,-11.6 15.6,-11.2 15.1,-10.9 14.7,-10.5 14.2,-10.1 13.6,-9.7 13.0,-9.3 12.4,-8.9 11.7,-8.5 11.0,-8.1 10.2,-7.7 9.5,-7.2 8.7,-6.8 7.9,-6.3 7.2,-5.9 6.5,-5.5 5.8,-5.1 5.1,-4.6 4.4,-4.2 3.7,-3.8 3.1,-3.4 2.6,-3.0 2.1,-2.7 1.7,-2.4 1.3,-2.2 1.0,-2.0 0.7,-1.8 0.5,-1.6 0.3,-1.5 0.2,-1.4 0.0,-1.3 0.8,-0.3 0.9,-0.4 1.1,-0.5 1.2,-0.7 1.4,-0.8 1.7,-1.0 2.0,-1.2 2.3,-1.4 2.7,-1.7 3.2,-2.0 3.8,-2.3 4.4,-2.6 5.1,-3.0 5.8,-3.4 6.5,-3.7 7.3,-4.1 8.0,-4.5 8.7,-4.9 9.5,-5.2 10.3,-5.6 11.1,-6.0 11.9,-6.3 12.7,-6.7 13.5,-7.1 14.2,-7.5 14.8,-7.8 15.4,-8.1 16.0,-8.5 16.6,-8.8 17.1,-9.1 17.6,-9.5 18.1,-9.8 18.6,-10.2 19.0,-10.6 19.4,-10.9 19.8,-11.3 20.1,-11.7 20.4,-12.1 20.7,-12.5 20.9,-12.9 21.2,-13.3 21.3,-13.7 21.5,-14.2 21.6,-14.6 21.7,-15.1 21.7,-15.5 21.8,-16.0 21.7,-16.4 21.7,-16.9 21.5,-17.3 21.3,-17.7 21.1,-18.1 20.9,-18.5 20.6,-18.8 20.3,-19.2 19.9,-19.5 19.5,-19.8 19.1,-20.0 18.6,-20.1 18.2,-20.2 17.8,-20.2 17.3,-20.3 16.9,-20.3 16.5,-20.2 16.0,-20.2 15.6,-20.2 15.2,-20.2 14.8,-20.2 14.4,-20.1 13.9,-20.0 13.5,-19.9 13.1,-19.8 12.7,-19.7 12.2,-19.6 11.8,-19.4 11.3,-19.2 10.9,-19.0 10.4,-18.8 10.0,-18.6 9.6,-18.3 9.2,-18.0 8.9,-17.6 8.6,-17.1 8.4,-16.7 8.1,-16.2 7.9,-15.8 7.8,-15.4 7.6,-15.0 7.5,-14.8Z"/><path d="M0.0,0.0 L12.6,0.0 L15.6,-6.2 L14.9,-6.2 L11.8,-1.8 L1.6,-1.8Z"/><circle cx="8.4" cy="-14.1" r="1.75"/></g>
<g transform="translate(463.40,333.20)" fill="#111"><circle cx="15.6" cy="-16.4" r="1.7"/><path d="M17.3,-17.9 17.1,-18.1 16.9,-18.4 16.7,-18.7 16.4,-19.0 16.0,-19.4 15.7,-19.7 15.2,-20.0 14.7,-20.2 14.2,-20.3 13.7,-20.3 13.2,-20.3 12.6,-20.3 12.0,-20.2 11.4,-20.0 10.9,-19.9 10.3,-19.6 9.7,-19.4 9.1,-19.1 8.5,-18.8 7.9,-18.4 7.3,-18.0 6.7,-17.6 6.1,-17.2 5.6,-16.8 5.1,-16.3 4.6,-15.9 4.1,-15.4 3.7,-14.9 3.2,-14.4 2.7,-13.9 2.3,-13.3 1.9,-12.8 1.5,-12.1 1.1,-11.5 0.8,-10.8 0.4,-10.2 0.1,-9.5 -0.2,-8.9 -0.5,-8.2 -0.7,-7.6 -0.8,-7.0 -1.0,-6.5 -1.1,-5.9 -1.1,-5.4 -1.2,-4.8 -1.2,-4.3 -1.2,-3.8 -1.1,-3.3 -1.0,-2.9 -0.8,-2.4 -0.6,-2.0 -0.3,-1.6 -0.0,-1.3 0.3,-1.0 0.7,-0.7 1.0,-0.5 1.4,-0.3 1.8,-0.1 2.2,0.0 2.7,0.2 3.2,0.3 3.6,0.3 4.1,0.3 4.6,0.3 5.1,0.3 5.6,0.3 6.2,0.2 6.8,0.1 7.3,-0.0 7.9,-0.2 8.5,-0.4 9.0,-0.7 9.6,-1.0 10.2,-1.4 10.8,-1.8 11.4,-2.2 12.0,-2.7 12.5,-3.2 13.0,-3.7 13.5,-4.2 13.8,-4.8 14.0,-5.5 14.2,-6.1 14.4,-6.7 14.5,-7.4 14.5,-8.0 14.5,-8.5 14.5,-9.1 14.4,-9.6 14.1,-10.1 13.9,-10.5 13.6,-10.9 13.2,-11.2 12.9,-11.5 12.5,-11.7 12.1,-11.9 11.7,-12.1 11.3,-12.2 10.8,-12.3 10.4,-12.4 9.9,-12.4 9.4,-12.4 9.0,-12.4 8.5,-12.3 8.0,-12.2 7.6,-12.0 7.1,-11.8 6.7,-11.6 6.3,-11.4 5.9,-11.1 5.5,-10.9 5.1,-10.6 4.7,-10.3 4.4,-10.0 4.0,-9.7 3.7,-9.3 3.4,-9.0 3.2,-8.7 3.0,-8.5 2.8,-8.3 3.6,-7.7 3.7,-7.8 4.0,-8.1 4.2,-8.4 4.5,-8.7 4.8,-9.0 5.1,-9.3 5.4,-9.5 5.7,-9.8 6.0,-10.0 6.4,-10.3 6.8,-10.5 7.2,-10.7 7.6,-10.9 8.0,-11.1 8.3,-11.2 8.7,-11.3 9.1,-11.3 9.5,-11.4 9.9,-11.3 10.2,-11.3 10.6,-11.2 11.0,-11.1 11.3,-11.0 11.5,-10.9 11.7,-10.7 11.8,-10.4 12.0,-10.2 12.1,-9.9 12.1,-9.7 12.2,-9.4 12.1,-9.2 12.1,-8.9 12.1,-8.6 12.0,-8.3 11.9,-7.8 11.8,-7.4 11.6,-7.0 11.4,-6.6 11.2,-6.2 10.9,-5.8 10.7,-5.3 10.5,-4.9 10.1,-4.3 9.8,-3.8 9.4,-3.3 9.0,-2.9 8.6,-2.4 8.2,-2.1 7.8,-1.8 7.3,-1.6 6.9,-1.3 6.4,-1.2 5.9,-1.0 5.5,-0.9 5.0,-0.8 4.6,-0.7 4.2,-0.7 3.7,-0.8 3.3,-0.8 3.0,-0.9 2.6,-1.0 2.3,-1.2 2.0,-1.3 1.8,-1.5 1.6,-1.7 1.6,-1.9 1.5,-2.2 1.5,-2.4 1.5,-2.7 1.6,-2.9 1.6,-3.2 1.7,-3.5 1.7,-3.8 1.8,-4.1 1.9,-4.4 2.0,-4.7 2.1,-5.1 2.3,-5.5 2.5,-5.9 2.7,-6.4 2.9,-6.9 3.1,-7.4 3.4,-8.0 3.7,-8.6 4.0,-9.2 4.3,-9.8 4.6,-10.3 4.9,-10.8 5.2,-11.4 5.5,-11.9 5.8,-12.4 6.1,-12.9 6.5,-13.4 6.8,-13.9 7.2,-14.3 7.6,-14.8 8.0,-15.3 8.4,-15.8 8.8,-16.3 9.2,-16.8 9.6,-17.3 10.1,-17.7 10.5,-18.0 10.9,-18.4 11.4,-18.6 11.8,-18.8 12.3,-19.0 12.8,-19.1 13.3,-19.2 13.7,-19.2 14.1,-19.2 14.5,-19.2 14.8,-19.1 15.0,-18.9 15.3,-18.7 15.6,-18.4 15.9,-18.0 16.1,-17.7 16.3,-17.5 16.5,-17.3Z"/></g>
<g transform="translate(573.00,412.50)" fill="#111"><path d="M9.9,-20.0 L20.4,-20.4 L19.6,-19.1 L14.6,-17.3 L10.2,-16.5Z"/><path d="M9.9,-19.3 9.4,-18.5 8.6,-17.3 7.6,-15.9 6.6,-14.4 5.6,-12.9 4.7,-11.5 3.9,-10.3 3.4,-9.5 4.2,-8.9 4.8,-9.7 5.6,-10.9 6.5,-12.3 7.6,-13.8 8.6,-15.3 9.5,-16.7 10.3,-17.8 10.9,-18.7Z"/><path d="M4.1,-8.8 4.4,-9.0 4.7,-9.3 5.0,-9.7 5.4,-10.1 5.8,-10.4 6.2,-10.8 6.6,-11.1 7.0,-11.3 7.5,-11.5 7.9,-11.7 8.4,-11.8 8.9,-12.0 9.5,-12.1 9.9,-12.1 10.4,-12.2 10.8,-12.2 11.2,-12.1 11.6,-12.0 11.9,-11.9 12.2,-11.8 12.4,-11.6 12.6,-11.5 12.7,-11.3 12.8,-11.1 12.9,-11.0 13.0,-10.8 13.1,-10.6 13.2,-10.4 13.3,-10.2 13.3,-9.9 13.3,-9.7 13.3,-9.5 13.3,-9.4 13.3,-9.2 13.3,-8.9 13.3,-8.7 13.2,-8.4 13.1,-8.1 13.0,-7.8 12.9,-7.5 12.7,-7.2 12.6,-6.9 12.4,-6.5 12.1,-6.1 11.9,-5.7 11.6,-5.3 11.3,-4.9 11.0,-4.6 10.7,-4.2 10.4,-3.8 10.1,-3.5 9.8,-3.1 9.5,-2.8 9.2,-2.5 8.8,-2.2 8.5,-1.9 8.0,-1.7 7.6,-1.5 7.1,-1.3 6.6,-1.1 6.1,-0.9 5.7,-0.8 5.2,-0.7 4.8,-0.6 4.3,-0.6 3.9,-0.6 3.5,-0.6 3.1,-0.6 2.7,-0.7 2.4,-0.7 2.1,-0.8 1.8,-0.9 1.6,-1.1 1.4,-1.3 1.2,-1.5 1.1,-1.8 0.9,-2.0 0.8,-2.3 0.7,-2.5 0.7,-2.7 0.7,-2.9 0.7,-3.0 0.7,-3.2 0.8,-3.4 0.9,-3.7 1.0,-3.9 1.1,-4.1 1.2,-4.2 1.4,-4.3 1.5,-4.4 1.8,-4.6 2.0,-4.7 2.2,-4.8 2.5,-4.9 2.7,-5.0 2.9,-5.1 2.3,-6.1 2.2,-6.1 2.0,-6.0 1.8,-5.9 1.5,-5.8 1.2,-5.6 0.9,-5.4 0.6,-5.2 0.4,-5.0 0.2,-4.7 -0.0,-4.5 -0.2,-4.2 -0.3,-3.9 -0.4,-3.6 -0.5,-3.2 -0.5,-2.9 -0.5,-2.5 -0.4,-2.1 -0.2,-1.8 -0.1,-1.5 0.1,-1.1 0.4,-0.8 0.7,-0.5 1.0,-0.3 1.4,-0.1 1.7,0.1 2.1,0.2 2.5,0.3 3.0,0.4 3.4,0.4 3.9,0.5 4.4,0.4 4.8,0.4 5.3,0.4 5.9,0.3 6.4,0.3 7.0,0.2 7.5,0.0 8.1,-0.1 8.6,-0.3 9.1,-0.5 9.7,-0.7 10.2,-0.9 10.7,-1.1 11.2,-1.4 11.6,-1.7 12.1,-2.0 12.6,-2.3 13.0,-2.6 13.4,-3.0 13.8,-3.4 14.2,-3.8 14.6,-4.2 15.0,-4.7 15.3,-5.1 15.6,-5.6 15.9,-6.1 16.1,-6.5 16.3,-7.0 16.5,-7.5 16.6,-8.0 16.7,-8.5 16.7,-9.0 16.7,-9.5 16.7,-10.1 16.5,-10.6 16.3,-11.0 16.1,-11.5 15.8,-11.9 15.5,-12.3 15.2,-12.7 14.8,-13.0 14.4,-13.3 13.9,-13.4 13.5,-13.6 13.0,-13.6 12.6,-13.6 12.1,-13.6 11.7,-13.6 11.2,-13.5 10.8,-13.4 10.3,-13.3 9.8,-13.3 9.2,-13.2 8.7,-13.0 8.1,-12.9 7.6,-12.7 7.1,-12.5 6.6,-12.3 6.1,-12.0 5.6,-11.6 5.1,-11.2 4.7,-10.8 4.3,-10.4 4.0,-10.1 3.7,-9.8 3.5,-9.6Z"/><circle cx="2.8" cy="-5.2" r="1.65"/></g>
<g transform="translate(494.30,550.10)" fill="#111"><path d="M8.2,-17.6 L16.6,-20.3 L15.6,-18.2 L8.6,-16.6Z"/><path d="M15.2,-19.0 L17.2,-20.3 L8.8,-0.9 L5.5,-0.9Z"/><path d="M0.1,-0.1 1.1,-0.1 2.4,-0.1 4.1,-0.1 5.8,-0.1 7.6,-0.1 9.3,-0.1 10.6,-0.1 11.6,-0.1 11.6,-1.4 10.6,-1.4 9.3,-1.4 7.6,-1.4 5.8,-1.4 4.1,-1.4 2.4,-1.4 1.1,-1.4 0.1,-1.4Z"/></g>
<g transform="translate(511.00,550.60)" fill="#111"><path d="M17.2,-20.3 15.8,-19.1 13.7,-17.4 11.2,-15.5 8.6,-13.3 5.9,-11.2 3.4,-9.2 1.4,-7.5 -0.1,-6.4 0.7,-5.4 2.1,-6.6 4.2,-8.3 6.7,-10.2 9.3,-12.4 12.0,-14.5 14.5,-16.5 16.5,-18.2 18.0,-19.3Z"/><path d="M17.0,-20.3 L18.4,-20.1 L14.6,-10.5 L9.6,-0.9 L6.0,-0.9 L10.8,-10.5Z"/><path d="M0.1,-5.1 1.3,-5.1 3.0,-5.1 5.1,-5.1 7.4,-5.1 9.6,-5.1 11.7,-5.1 13.4,-5.1 14.6,-5.2 14.6,-6.5 13.4,-6.5 11.7,-6.5 9.6,-6.5 7.3,-6.5 5.1,-6.5 3.0,-6.5 1.3,-6.5 0.1,-6.5Z"/><path d="M3.0,-0.2 3.7,-0.2 4.7,-0.2 5.8,-0.2 7.1,-0.2 8.4,-0.2 9.5,-0.2 10.5,-0.2 11.2,-0.3 11.2,-1.4 10.5,-1.4 9.5,-1.4 8.4,-1.4 7.1,-1.4 5.8,-1.4 4.7,-1.4 3.7,-1.4 3.0,-1.4Z"/></g>
<g transform="translate(527.60,549.20)" fill="#111"><circle cx="0" cy="0" r="1.55"/><path d="M0.4,0.2 0.4,0.4 0.4,0.7 0.3,1.0 0.3,1.3 0.2,1.6 0.1,1.9 -0.0,2.2 -0.1,2.5 -0.3,2.8 -0.5,3.0 -0.7,3.3 -0.9,3.6 -1.2,3.9 -1.4,4.2 -1.7,4.4 -1.9,4.6 -2.1,4.8 -2.4,5.0 -2.7,5.2 -2.9,5.4 -3.2,5.5 -3.4,5.7 -3.6,5.8 -3.8,5.9 -3.4,6.5 -3.3,6.4 -3.1,6.4 -2.8,6.2 -2.5,6.1 -2.2,6.0 -1.9,5.8 -1.6,5.6 -1.3,5.4 -1.0,5.1 -0.7,4.9 -0.4,4.6 -0.1,4.3 0.2,4.0 0.4,3.7 0.7,3.4 0.9,3.1 1.1,2.8 1.3,2.4 1.5,2.0 1.6,1.7 1.7,1.3 1.8,1.0 1.9,0.8 2.0,0.6Z"/></g>
<g transform="translate(534.20,550.20)" fill="#111"><path d="M9.9,-20.0 L20.4,-20.4 L19.6,-19.1 L14.6,-17.3 L10.2,-16.5Z"/><path d="M9.9,-19.3 9.4,-18.5 8.6,-17.3 7.6,-15.9 6.6,-14.4 5.6,-12.9 4.7,-11.5 3.9,-10.3 3.4,-9.5 4.2,-8.9 4.8,-9.7 5.6,-10.9 6.5,-12.3 7.6,-13.8 8.6,-15.3 9.5,-16.7 10.3,-17.8 10.9,-18.7Z"/><path d="M4.1,-8.8 4.4,-9.0 4.7,-9.3 5.0,-9.7 5.4,-10.1 5.8,-10.4 6.2,-10.8 6.6,-11.1 7.0,-11.3 7.5,-11.5 7.9,-11.7 8.4,-11.8 8.9,-12.0 9.5,-12.1 9.9,-12.1 10.4,-12.2 10.8,-12.2 11.2,-12.1 11.6,-12.0 11.9,-11.9 12.2,-11.8 12.4,-11.6 12.6,-11.5 12.7,-11.3 12.8,-11.1 12.9,-11.0 13.0,-10.8 13.1,-10.6 13.2,-10.4 13.3,-10.2 13.3,-9.9 13.3,-9.7 13.3,-9.5 13.3,-9.4 13.3,-9.2 13.3,-8.9 13.3,-8.7 13.2,-8.4 13.1,-8.1 13.0,-7.8 12.9,-7.5 12.7,-7.2 12.6,-6.9 12.4,-6.5 12.1,-6.1 11.9,-5.7 11.6,-5.3 11.3,-4.9 11.0,-4.6 10.7,-4.2 10.4,-3.8 10.1,-3.5 9.8,-3.1 9.5,-2.8 9.2,-2.5 8.8,-2.2 8.5,-1.9 8.0,-1.7 7.6,-1.5 7.1,-1.3 6.6,-1.1 6.1,-0.9 5.7,-0.8 5.2,-0.7 4.8,-0.6 4.3,-0.6 3.9,-0.6 3.5,-0.6 3.1,-0.6 2.7,-0.7 2.4,-0.7 2.1,-0.8 1.8,-0.9 1.6,-1.1 1.4,-1.3 1.2,-1.5 1.1,-1.8 0.9,-2.0 0.8,-2.3 0.7,-2.5 0.7,-2.7 0.7,-2.9 0.7,-3.0 0.7,-3.2 0.8,-3.4 0.9,-3.7 1.0,-3.9 1.1,-4.1 1.2,-4.2 1.4,-4.3 1.5,-4.4 1.8,-4.6 2.0,-4.7 2.2,-4.8 2.5,-4.9 2.7,-5.0 2.9,-5.1 2.3,-6.1 2.2,-6.1 2.0,-6.0 1.8,-5.9 1.5,-5.8 1.2,-5.6 0.9,-5.4 0.6,-5.2 0.4,-5.0 0.2,-4.7 -0.0,-4.5 -0.2,-4.2 -0.3,-3.9 -0.4,-3.6 -0.5,-3.2 -0.5,-2.9 -0.5,-2.5 -0.4,-2.1 -0.2,-1.8 -0.1,-1.5 0.1,-1.1 0.4,-0.8 0.7,-0.5 1.0,-0.3 1.4,-0.1 1.7,0.1 2.1,0.2 2.5,0.3 3.0,0.4 3.4,0.4 3.9,0.5 4.4,0.4 4.8,0.4 5.3,0.4 5.9,0.3 6.4,0.3 7.0,0.2 7.5,0.0 8.1,-0.1 8.6,-0.3 9.1,-0.5 9.7,-0.7 10.2,-0.9 10.7,-1.1 11.2,-1.4 11.6,-1.7 12.1,-2.0 12.6,-2.3 13.0,-2.6 13.4,-3.0 13.8,-3.4 14.2,-3.8 14.6,-4.2 15.0,-4.7 15.3,-5.1 15.6,-5.6 15.9,-6.1 16.1,-6.5 16.3,-7.0 16.5,-7.5 16.6,-8.0 16.7,-8.5 16.7,-9.0 16.7,-9.5 16.7,-10.1 16.5,-10.6 16.3,-11.0 16.1,-11.5 15.8,-11.9 15.5,-12.3 15.2,-12.7 14.8,-13.0 14.4,-13.3 13.9,-13.4 13.5,-13.6 13.0,-13.6 12.6,-13.6 12.1,-13.6 11.7,-13.6 11.2,-13.5 10.8,-13.4 10.3,-13.3 9.8,-13.3 9.2,-13.2 8.7,-13.0 8.1,-12.9 7.6,-12.7 7.1,-12.5 6.6,-12.3 6.1,-12.0 5.6,-11.6 5.1,-11.2 4.7,-10.8 4.3,-10.4 4.0,-10.1 3.7,-9.8 3.5,-9.6Z"/><circle cx="2.8" cy="-5.2" r="1.65"/></g>
</svg></body></html>
